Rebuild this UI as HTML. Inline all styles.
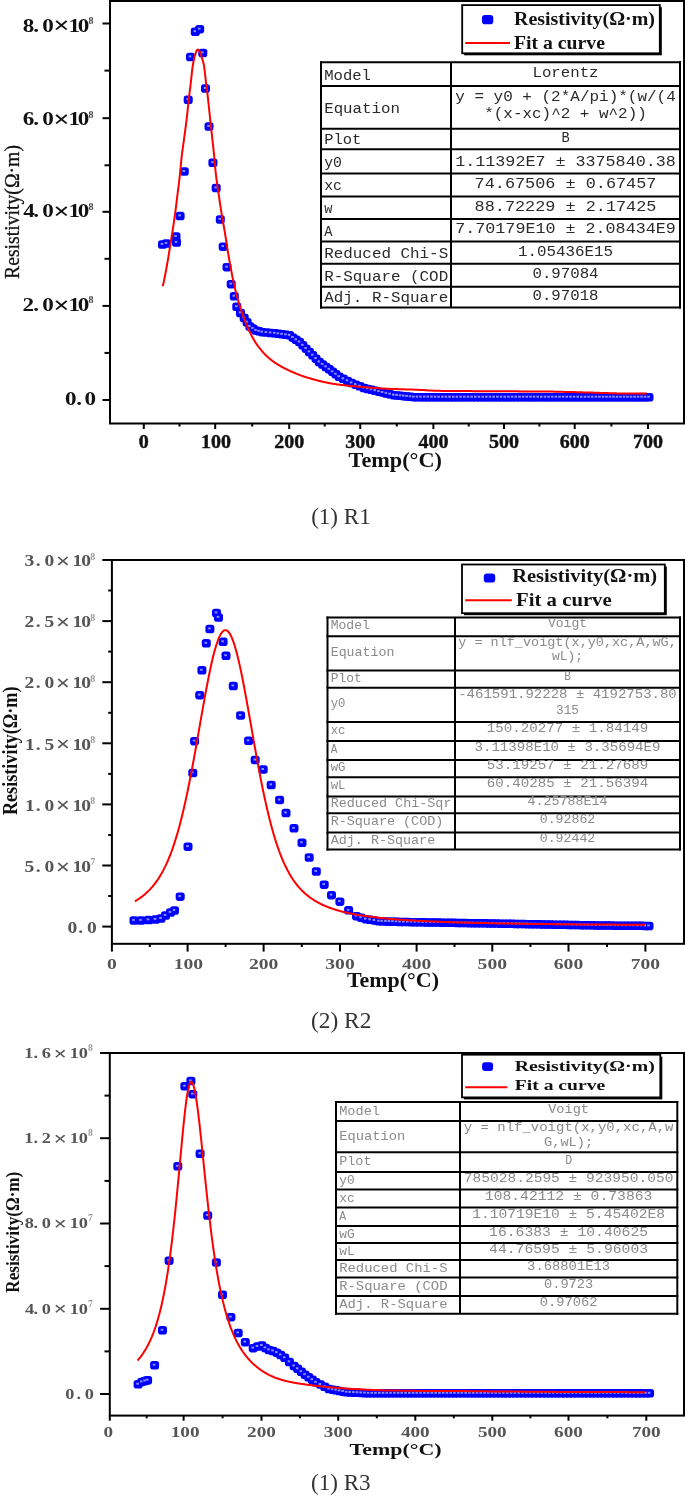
<!DOCTYPE html>
<html><head><meta charset="utf-8"><title>Resistivity fits</title>
<style>html,body{margin:0;padding:0;background:#fff;}body{width:685px;height:1496px;overflow:hidden;}svg{display:block;}</style>
</head><body>
<svg width="685" height="1496" viewBox="0 0 685 1496">
<rect width="685" height="1496" fill="#fff"/>
<rect x="158.0" y="240.2" width="9.0" height="8.5" rx="2.8" fill="#0000ff"/>
<rect x="162.0" y="239.2" width="9.0" height="8.5" rx="2.8" fill="#0000ff"/>
<rect x="171.5" y="232.2" width="9.0" height="8.5" rx="2.8" fill="#0000ff"/>
<rect x="172.0" y="238.2" width="9.0" height="8.5" rx="2.8" fill="#0000ff"/>
<rect x="175.6" y="211.7" width="9.0" height="8.5" rx="2.8" fill="#0000ff"/>
<rect x="179.8" y="167.3" width="9.0" height="8.5" rx="2.8" fill="#0000ff"/>
<rect x="183.7" y="95.5" width="9.0" height="8.5" rx="2.8" fill="#0000ff"/>
<rect x="186.0" y="52.7" width="9.0" height="8.5" rx="2.8" fill="#0000ff"/>
<rect x="190.8" y="27.5" width="9.0" height="8.5" rx="2.8" fill="#0000ff"/>
<rect x="195.2" y="24.9" width="9.0" height="8.5" rx="2.8" fill="#0000ff"/>
<rect x="198.3" y="48.7" width="9.0" height="8.5" rx="2.8" fill="#0000ff"/>
<rect x="201.0" y="84.2" width="9.0" height="8.5" rx="2.8" fill="#0000ff"/>
<rect x="204.5" y="122.2" width="9.0" height="8.5" rx="2.8" fill="#0000ff"/>
<rect x="208.4" y="158.5" width="9.0" height="8.5" rx="2.8" fill="#0000ff"/>
<rect x="211.7" y="183.7" width="9.0" height="8.5" rx="2.8" fill="#0000ff"/>
<rect x="215.8" y="215.2" width="9.0" height="8.5" rx="2.8" fill="#0000ff"/>
<rect x="218.7" y="242.4" width="9.0" height="8.5" rx="2.8" fill="#0000ff"/>
<rect x="222.5" y="262.9" width="9.0" height="8.5" rx="2.8" fill="#0000ff"/>
<rect x="226.7" y="279.9" width="9.0" height="8.5" rx="2.8" fill="#0000ff"/>
<rect x="229.8" y="292.0" width="9.0" height="8.5" rx="2.8" fill="#0000ff"/>
<rect x="232.3" y="302.5" width="9.0" height="8.5" rx="2.8" fill="#0000ff"/>
<rect x="236.0" y="308.7" width="9.0" height="8.5" rx="2.8" fill="#0000ff"/>
<rect x="239.7" y="313.7" width="9.0" height="8.5" rx="2.8" fill="#0000ff"/>
<rect x="242.6" y="318.0" width="9.0" height="8.5" rx="2.8" fill="#0000ff"/>
<rect x="245.4" y="322.2" width="9.0" height="8.5" rx="2.8" fill="#0000ff"/>
<rect x="248.4" y="324.2" width="9.0" height="8.5" rx="2.8" fill="#0000ff"/>
<rect x="251.5" y="326.2" width="9.0" height="8.5" rx="2.8" fill="#0000ff"/>
<rect x="254.6" y="327.1" width="9.0" height="8.5" rx="2.8" fill="#0000ff"/>
<rect x="257.8" y="327.9" width="9.0" height="8.5" rx="2.8" fill="#0000ff"/>
<rect x="261.9" y="328.3" width="9.0" height="8.5" rx="2.8" fill="#0000ff"/>
<rect x="266.1" y="328.7" width="9.0" height="8.5" rx="2.8" fill="#0000ff"/>
<rect x="270.2" y="329.1" width="9.0" height="8.5" rx="2.8" fill="#0000ff"/>
<rect x="273.9" y="329.6" width="9.0" height="8.5" rx="2.8" fill="#0000ff"/>
<rect x="277.6" y="330.1" width="9.0" height="8.5" rx="2.8" fill="#0000ff"/>
<rect x="281.4" y="330.6" width="9.0" height="8.5" rx="2.8" fill="#0000ff"/>
<rect x="285.1" y="331.1" width="9.0" height="8.5" rx="2.8" fill="#0000ff"/>
<rect x="288.4" y="333.4" width="9.0" height="8.5" rx="2.8" fill="#0000ff"/>
<rect x="291.7" y="335.6" width="9.0" height="8.5" rx="2.8" fill="#0000ff"/>
<rect x="295.0" y="337.8" width="9.0" height="8.5" rx="2.8" fill="#0000ff"/>
<rect x="298.3" y="341.1" width="9.0" height="8.5" rx="2.8" fill="#0000ff"/>
<rect x="301.6" y="344.4" width="9.0" height="8.5" rx="2.8" fill="#0000ff"/>
<rect x="304.9" y="347.7" width="9.0" height="8.5" rx="2.8" fill="#0000ff"/>
<rect x="308.2" y="351.1" width="9.0" height="8.5" rx="2.8" fill="#0000ff"/>
<rect x="311.5" y="354.4" width="9.0" height="8.5" rx="2.8" fill="#0000ff"/>
<rect x="314.8" y="357.7" width="9.0" height="8.5" rx="2.8" fill="#0000ff"/>
<rect x="318.1" y="360.2" width="9.0" height="8.5" rx="2.8" fill="#0000ff"/>
<rect x="321.5" y="362.7" width="9.0" height="8.5" rx="2.8" fill="#0000ff"/>
<rect x="324.8" y="365.1" width="9.0" height="8.5" rx="2.8" fill="#0000ff"/>
<rect x="328.1" y="367.6" width="9.0" height="8.5" rx="2.8" fill="#0000ff"/>
<rect x="331.4" y="370.1" width="9.0" height="8.5" rx="2.8" fill="#0000ff"/>
<rect x="334.7" y="372.5" width="9.0" height="8.5" rx="2.8" fill="#0000ff"/>
<rect x="338.8" y="374.6" width="9.0" height="8.5" rx="2.8" fill="#0000ff"/>
<rect x="343.0" y="376.7" width="9.0" height="8.5" rx="2.8" fill="#0000ff"/>
<rect x="347.1" y="378.7" width="9.0" height="8.5" rx="2.8" fill="#0000ff"/>
<rect x="351.2" y="380.4" width="9.0" height="8.5" rx="2.8" fill="#0000ff"/>
<rect x="355.4" y="382.1" width="9.0" height="8.5" rx="2.8" fill="#0000ff"/>
<rect x="359.5" y="383.7" width="9.0" height="8.5" rx="2.8" fill="#0000ff"/>
<rect x="363.2" y="384.7" width="9.0" height="8.5" rx="2.8" fill="#0000ff"/>
<rect x="366.9" y="385.6" width="9.0" height="8.5" rx="2.8" fill="#0000ff"/>
<rect x="370.7" y="386.5" width="9.0" height="8.5" rx="2.8" fill="#0000ff"/>
<rect x="374.4" y="387.4" width="9.0" height="8.5" rx="2.8" fill="#0000ff"/>
<rect x="378.1" y="388.3" width="9.0" height="8.5" rx="2.8" fill="#0000ff"/>
<rect x="381.9" y="389.2" width="9.0" height="8.5" rx="2.8" fill="#0000ff"/>
<rect x="385.6" y="390.1" width="9.0" height="8.5" rx="2.8" fill="#0000ff"/>
<rect x="389.3" y="390.9" width="9.0" height="8.5" rx="2.8" fill="#0000ff"/>
<rect x="392.6" y="391.3" width="9.0" height="8.5" rx="2.8" fill="#0000ff"/>
<rect x="396.0" y="391.6" width="9.0" height="8.5" rx="2.8" fill="#0000ff"/>
<rect x="399.3" y="391.9" width="9.0" height="8.5" rx="2.8" fill="#0000ff"/>
<rect x="402.6" y="392.3" width="9.0" height="8.5" rx="2.8" fill="#0000ff"/>
<rect x="406.0" y="392.6" width="9.0" height="8.5" rx="2.8" fill="#0000ff"/>
<rect x="409.3" y="392.9" width="9.0" height="8.5" rx="2.8" fill="#0000ff"/>
<rect x="412.9" y="392.9" width="9.0" height="8.5" rx="2.8" fill="#0000ff"/>
<rect x="416.5" y="392.9" width="9.0" height="8.5" rx="2.8" fill="#0000ff"/>
<rect x="420.2" y="393.0" width="9.0" height="8.5" rx="2.8" fill="#0000ff"/>
<rect x="423.8" y="393.0" width="9.0" height="8.5" rx="2.8" fill="#0000ff"/>
<rect x="427.4" y="393.0" width="9.0" height="8.5" rx="2.8" fill="#0000ff"/>
<rect x="431.0" y="393.0" width="9.0" height="8.5" rx="2.8" fill="#0000ff"/>
<rect x="434.6" y="393.0" width="9.0" height="8.5" rx="2.8" fill="#0000ff"/>
<rect x="438.3" y="393.0" width="9.0" height="8.5" rx="2.8" fill="#0000ff"/>
<rect x="441.9" y="393.0" width="9.0" height="8.5" rx="2.8" fill="#0000ff"/>
<rect x="445.5" y="393.0" width="9.0" height="8.5" rx="2.8" fill="#0000ff"/>
<rect x="449.2" y="393.0" width="9.0" height="8.5" rx="2.8" fill="#0000ff"/>
<rect x="452.9" y="393.0" width="9.0" height="8.5" rx="2.8" fill="#0000ff"/>
<rect x="456.6" y="393.0" width="9.0" height="8.5" rx="2.8" fill="#0000ff"/>
<rect x="460.2" y="393.0" width="9.0" height="8.5" rx="2.8" fill="#0000ff"/>
<rect x="463.9" y="393.0" width="9.0" height="8.5" rx="2.8" fill="#0000ff"/>
<rect x="467.6" y="393.0" width="9.0" height="8.5" rx="2.8" fill="#0000ff"/>
<rect x="471.3" y="393.0" width="9.0" height="8.5" rx="2.8" fill="#0000ff"/>
<rect x="475.0" y="393.0" width="9.0" height="8.5" rx="2.8" fill="#0000ff"/>
<rect x="478.7" y="393.0" width="9.0" height="8.5" rx="2.8" fill="#0000ff"/>
<rect x="482.3" y="393.0" width="9.0" height="8.5" rx="2.8" fill="#0000ff"/>
<rect x="486.0" y="393.0" width="9.0" height="8.5" rx="2.8" fill="#0000ff"/>
<rect x="489.7" y="393.0" width="9.0" height="8.5" rx="2.8" fill="#0000ff"/>
<rect x="493.4" y="393.0" width="9.0" height="8.5" rx="2.8" fill="#0000ff"/>
<rect x="497.1" y="393.0" width="9.0" height="8.5" rx="2.8" fill="#0000ff"/>
<rect x="500.8" y="393.0" width="9.0" height="8.5" rx="2.8" fill="#0000ff"/>
<rect x="504.4" y="393.0" width="9.0" height="8.5" rx="2.8" fill="#0000ff"/>
<rect x="508.1" y="393.0" width="9.0" height="8.5" rx="2.8" fill="#0000ff"/>
<rect x="511.8" y="393.0" width="9.0" height="8.5" rx="2.8" fill="#0000ff"/>
<rect x="515.5" y="393.0" width="9.0" height="8.5" rx="2.8" fill="#0000ff"/>
<rect x="519.1" y="393.0" width="9.0" height="8.5" rx="2.8" fill="#0000ff"/>
<rect x="522.8" y="393.0" width="9.0" height="8.5" rx="2.8" fill="#0000ff"/>
<rect x="526.4" y="393.0" width="9.0" height="8.5" rx="2.8" fill="#0000ff"/>
<rect x="530.0" y="393.0" width="9.0" height="8.5" rx="2.8" fill="#0000ff"/>
<rect x="533.7" y="393.0" width="9.0" height="8.5" rx="2.8" fill="#0000ff"/>
<rect x="537.3" y="393.0" width="9.0" height="8.5" rx="2.8" fill="#0000ff"/>
<rect x="541.0" y="393.0" width="9.0" height="8.5" rx="2.8" fill="#0000ff"/>
<rect x="544.6" y="393.0" width="9.0" height="8.5" rx="2.8" fill="#0000ff"/>
<rect x="548.2" y="393.0" width="9.0" height="8.5" rx="2.8" fill="#0000ff"/>
<rect x="551.9" y="393.0" width="9.0" height="8.5" rx="2.8" fill="#0000ff"/>
<rect x="555.5" y="393.0" width="9.0" height="8.5" rx="2.8" fill="#0000ff"/>
<rect x="559.1" y="393.0" width="9.0" height="8.5" rx="2.8" fill="#0000ff"/>
<rect x="562.8" y="393.0" width="9.0" height="8.5" rx="2.8" fill="#0000ff"/>
<rect x="566.4" y="393.0" width="9.0" height="8.5" rx="2.8" fill="#0000ff"/>
<rect x="570.0" y="393.0" width="9.0" height="8.5" rx="2.8" fill="#0000ff"/>
<rect x="573.7" y="393.0" width="9.0" height="8.5" rx="2.8" fill="#0000ff"/>
<rect x="577.3" y="393.0" width="9.0" height="8.5" rx="2.8" fill="#0000ff"/>
<rect x="581.0" y="393.0" width="9.0" height="8.5" rx="2.8" fill="#0000ff"/>
<rect x="584.6" y="393.0" width="9.0" height="8.5" rx="2.8" fill="#0000ff"/>
<rect x="588.2" y="393.0" width="9.0" height="8.5" rx="2.8" fill="#0000ff"/>
<rect x="591.9" y="393.0" width="9.0" height="8.5" rx="2.8" fill="#0000ff"/>
<rect x="595.5" y="393.0" width="9.0" height="8.5" rx="2.8" fill="#0000ff"/>
<rect x="599.0" y="393.0" width="9.0" height="8.5" rx="2.8" fill="#0000ff"/>
<rect x="602.5" y="393.0" width="9.0" height="8.5" rx="2.8" fill="#0000ff"/>
<rect x="606.0" y="393.0" width="9.0" height="8.5" rx="2.8" fill="#0000ff"/>
<rect x="609.5" y="393.0" width="9.0" height="8.5" rx="2.8" fill="#0000ff"/>
<rect x="613.0" y="393.0" width="9.0" height="8.5" rx="2.8" fill="#0000ff"/>
<rect x="616.5" y="393.0" width="9.0" height="8.5" rx="2.8" fill="#0000ff"/>
<rect x="620.0" y="393.0" width="9.0" height="8.5" rx="2.8" fill="#0000ff"/>
<rect x="623.5" y="393.0" width="9.0" height="8.5" rx="2.8" fill="#0000ff"/>
<rect x="627.0" y="393.0" width="9.0" height="8.5" rx="2.8" fill="#0000ff"/>
<rect x="630.5" y="393.0" width="9.0" height="8.5" rx="2.8" fill="#0000ff"/>
<rect x="634.0" y="393.0" width="9.0" height="8.5" rx="2.8" fill="#0000ff"/>
<rect x="637.5" y="393.0" width="9.0" height="8.5" rx="2.8" fill="#0000ff"/>
<rect x="641.0" y="393.0" width="9.0" height="8.5" rx="2.8" fill="#0000ff"/>
<rect x="644.5" y="393.0" width="9.0" height="8.5" rx="2.8" fill="#0000ff"/>
<rect x="160.7" y="242.9" width="2.6" height="2" fill="#8c8cff"/>
<rect x="164.7" y="241.9" width="2.6" height="2" fill="#8c8cff"/>
<rect x="174.2" y="234.9" width="2.6" height="2" fill="#8c8cff"/>
<rect x="174.7" y="240.9" width="2.6" height="2" fill="#8c8cff"/>
<rect x="178.3" y="214.4" width="2.6" height="2" fill="#8c8cff"/>
<rect x="182.5" y="170.0" width="2.6" height="2" fill="#8c8cff"/>
<rect x="186.4" y="98.2" width="2.6" height="2" fill="#8c8cff"/>
<rect x="188.7" y="55.4" width="2.6" height="2" fill="#8c8cff"/>
<rect x="193.5" y="30.2" width="2.6" height="2" fill="#8c8cff"/>
<rect x="197.9" y="27.6" width="2.6" height="2" fill="#8c8cff"/>
<rect x="201.0" y="51.4" width="2.6" height="2" fill="#8c8cff"/>
<rect x="203.7" y="86.9" width="2.6" height="2" fill="#8c8cff"/>
<rect x="207.2" y="124.9" width="2.6" height="2" fill="#8c8cff"/>
<rect x="211.1" y="161.2" width="2.6" height="2" fill="#8c8cff"/>
<rect x="214.4" y="186.4" width="2.6" height="2" fill="#8c8cff"/>
<rect x="218.5" y="217.9" width="2.6" height="2" fill="#8c8cff"/>
<rect x="221.4" y="245.1" width="2.6" height="2" fill="#8c8cff"/>
<rect x="225.2" y="265.6" width="2.6" height="2" fill="#8c8cff"/>
<rect x="229.4" y="282.6" width="2.6" height="2" fill="#8c8cff"/>
<rect x="232.5" y="294.7" width="2.6" height="2" fill="#8c8cff"/>
<rect x="235.0" y="305.2" width="2.6" height="2" fill="#8c8cff"/>
<rect x="238.7" y="311.4" width="2.6" height="2" fill="#8c8cff"/>
<rect x="242.4" y="316.4" width="2.6" height="2" fill="#8c8cff"/>
<rect x="245.2" y="320.6" width="2.6" height="2" fill="#8c8cff"/>
<rect x="248.1" y="324.9" width="2.6" height="2" fill="#8c8cff"/>
<rect x="251.1" y="326.9" width="2.6" height="2" fill="#8c8cff"/>
<rect x="254.2" y="328.9" width="2.6" height="2" fill="#8c8cff"/>
<rect x="257.3" y="329.8" width="2.6" height="2" fill="#8c8cff"/>
<rect x="260.5" y="330.6" width="2.6" height="2" fill="#8c8cff"/>
<rect x="264.6" y="331.0" width="2.6" height="2" fill="#8c8cff"/>
<rect x="268.8" y="331.4" width="2.6" height="2" fill="#8c8cff"/>
<rect x="272.9" y="331.8" width="2.6" height="2" fill="#8c8cff"/>
<rect x="276.6" y="332.3" width="2.6" height="2" fill="#8c8cff"/>
<rect x="280.3" y="332.8" width="2.6" height="2" fill="#8c8cff"/>
<rect x="284.1" y="333.3" width="2.6" height="2" fill="#8c8cff"/>
<rect x="287.8" y="333.8" width="2.6" height="2" fill="#8c8cff"/>
<rect x="291.1" y="336.0" width="2.6" height="2" fill="#8c8cff"/>
<rect x="294.4" y="338.3" width="2.6" height="2" fill="#8c8cff"/>
<rect x="297.7" y="340.5" width="2.6" height="2" fill="#8c8cff"/>
<rect x="301.0" y="343.8" width="2.6" height="2" fill="#8c8cff"/>
<rect x="304.3" y="347.1" width="2.6" height="2" fill="#8c8cff"/>
<rect x="307.6" y="350.4" width="2.6" height="2" fill="#8c8cff"/>
<rect x="310.9" y="353.7" width="2.6" height="2" fill="#8c8cff"/>
<rect x="314.2" y="357.1" width="2.6" height="2" fill="#8c8cff"/>
<rect x="317.5" y="360.4" width="2.6" height="2" fill="#8c8cff"/>
<rect x="320.8" y="362.9" width="2.6" height="2" fill="#8c8cff"/>
<rect x="324.2" y="365.3" width="2.6" height="2" fill="#8c8cff"/>
<rect x="327.5" y="367.8" width="2.6" height="2" fill="#8c8cff"/>
<rect x="330.8" y="370.3" width="2.6" height="2" fill="#8c8cff"/>
<rect x="334.1" y="372.7" width="2.6" height="2" fill="#8c8cff"/>
<rect x="337.4" y="375.2" width="2.6" height="2" fill="#8c8cff"/>
<rect x="341.5" y="377.3" width="2.6" height="2" fill="#8c8cff"/>
<rect x="345.7" y="379.3" width="2.6" height="2" fill="#8c8cff"/>
<rect x="349.8" y="381.4" width="2.6" height="2" fill="#8c8cff"/>
<rect x="353.9" y="383.1" width="2.6" height="2" fill="#8c8cff"/>
<rect x="358.1" y="384.7" width="2.6" height="2" fill="#8c8cff"/>
<rect x="362.2" y="386.4" width="2.6" height="2" fill="#8c8cff"/>
<rect x="365.9" y="387.3" width="2.6" height="2" fill="#8c8cff"/>
<rect x="369.6" y="388.2" width="2.6" height="2" fill="#8c8cff"/>
<rect x="373.4" y="389.2" width="2.6" height="2" fill="#8c8cff"/>
<rect x="377.1" y="390.1" width="2.6" height="2" fill="#8c8cff"/>
<rect x="380.8" y="391.0" width="2.6" height="2" fill="#8c8cff"/>
<rect x="384.6" y="391.8" width="2.6" height="2" fill="#8c8cff"/>
<rect x="388.3" y="392.7" width="2.6" height="2" fill="#8c8cff"/>
<rect x="392.0" y="393.6" width="2.6" height="2" fill="#8c8cff"/>
<rect x="395.3" y="393.9" width="2.6" height="2" fill="#8c8cff"/>
<rect x="398.7" y="394.3" width="2.6" height="2" fill="#8c8cff"/>
<rect x="402.0" y="394.6" width="2.6" height="2" fill="#8c8cff"/>
<rect x="405.3" y="394.9" width="2.6" height="2" fill="#8c8cff"/>
<rect x="408.7" y="395.3" width="2.6" height="2" fill="#8c8cff"/>
<rect x="412.0" y="395.6" width="2.6" height="2" fill="#8c8cff"/>
<rect x="415.6" y="395.6" width="2.6" height="2" fill="#8c8cff"/>
<rect x="419.2" y="395.6" width="2.6" height="2" fill="#8c8cff"/>
<rect x="422.9" y="395.6" width="2.6" height="2" fill="#8c8cff"/>
<rect x="426.5" y="395.6" width="2.6" height="2" fill="#8c8cff"/>
<rect x="430.1" y="395.6" width="2.6" height="2" fill="#8c8cff"/>
<rect x="433.7" y="395.7" width="2.6" height="2" fill="#8c8cff"/>
<rect x="437.3" y="395.7" width="2.6" height="2" fill="#8c8cff"/>
<rect x="441.0" y="395.7" width="2.6" height="2" fill="#8c8cff"/>
<rect x="444.6" y="395.7" width="2.6" height="2" fill="#8c8cff"/>
<rect x="448.2" y="395.7" width="2.6" height="2" fill="#8c8cff"/>
<rect x="451.9" y="395.7" width="2.6" height="2" fill="#8c8cff"/>
<rect x="455.6" y="395.7" width="2.6" height="2" fill="#8c8cff"/>
<rect x="459.3" y="395.7" width="2.6" height="2" fill="#8c8cff"/>
<rect x="462.9" y="395.7" width="2.6" height="2" fill="#8c8cff"/>
<rect x="466.6" y="395.7" width="2.6" height="2" fill="#8c8cff"/>
<rect x="470.3" y="395.7" width="2.6" height="2" fill="#8c8cff"/>
<rect x="474.0" y="395.7" width="2.6" height="2" fill="#8c8cff"/>
<rect x="477.7" y="395.7" width="2.6" height="2" fill="#8c8cff"/>
<rect x="481.4" y="395.7" width="2.6" height="2" fill="#8c8cff"/>
<rect x="485.0" y="395.7" width="2.6" height="2" fill="#8c8cff"/>
<rect x="488.7" y="395.7" width="2.6" height="2" fill="#8c8cff"/>
<rect x="492.4" y="395.7" width="2.6" height="2" fill="#8c8cff"/>
<rect x="496.1" y="395.7" width="2.6" height="2" fill="#8c8cff"/>
<rect x="499.8" y="395.7" width="2.6" height="2" fill="#8c8cff"/>
<rect x="503.5" y="395.7" width="2.6" height="2" fill="#8c8cff"/>
<rect x="507.1" y="395.7" width="2.6" height="2" fill="#8c8cff"/>
<rect x="510.8" y="395.7" width="2.6" height="2" fill="#8c8cff"/>
<rect x="514.5" y="395.7" width="2.6" height="2" fill="#8c8cff"/>
<rect x="518.2" y="395.7" width="2.6" height="2" fill="#8c8cff"/>
<rect x="521.8" y="395.7" width="2.6" height="2" fill="#8c8cff"/>
<rect x="525.5" y="395.7" width="2.6" height="2" fill="#8c8cff"/>
<rect x="529.1" y="395.7" width="2.6" height="2" fill="#8c8cff"/>
<rect x="532.7" y="395.7" width="2.6" height="2" fill="#8c8cff"/>
<rect x="536.4" y="395.7" width="2.6" height="2" fill="#8c8cff"/>
<rect x="540.0" y="395.7" width="2.6" height="2" fill="#8c8cff"/>
<rect x="543.7" y="395.7" width="2.6" height="2" fill="#8c8cff"/>
<rect x="547.3" y="395.7" width="2.6" height="2" fill="#8c8cff"/>
<rect x="550.9" y="395.7" width="2.6" height="2" fill="#8c8cff"/>
<rect x="554.6" y="395.7" width="2.6" height="2" fill="#8c8cff"/>
<rect x="558.2" y="395.7" width="2.6" height="2" fill="#8c8cff"/>
<rect x="561.8" y="395.7" width="2.6" height="2" fill="#8c8cff"/>
<rect x="565.5" y="395.7" width="2.6" height="2" fill="#8c8cff"/>
<rect x="569.1" y="395.7" width="2.6" height="2" fill="#8c8cff"/>
<rect x="572.7" y="395.7" width="2.6" height="2" fill="#8c8cff"/>
<rect x="576.4" y="395.7" width="2.6" height="2" fill="#8c8cff"/>
<rect x="580.0" y="395.7" width="2.6" height="2" fill="#8c8cff"/>
<rect x="583.7" y="395.7" width="2.6" height="2" fill="#8c8cff"/>
<rect x="587.3" y="395.7" width="2.6" height="2" fill="#8c8cff"/>
<rect x="590.9" y="395.7" width="2.6" height="2" fill="#8c8cff"/>
<rect x="594.6" y="395.7" width="2.6" height="2" fill="#8c8cff"/>
<rect x="598.2" y="395.7" width="2.6" height="2" fill="#8c8cff"/>
<rect x="601.7" y="395.7" width="2.6" height="2" fill="#8c8cff"/>
<rect x="605.2" y="395.7" width="2.6" height="2" fill="#8c8cff"/>
<rect x="608.7" y="395.7" width="2.6" height="2" fill="#8c8cff"/>
<rect x="612.2" y="395.7" width="2.6" height="2" fill="#8c8cff"/>
<rect x="615.7" y="395.7" width="2.6" height="2" fill="#8c8cff"/>
<rect x="619.2" y="395.7" width="2.6" height="2" fill="#8c8cff"/>
<rect x="622.7" y="395.7" width="2.6" height="2" fill="#8c8cff"/>
<rect x="626.2" y="395.7" width="2.6" height="2" fill="#8c8cff"/>
<rect x="629.7" y="395.7" width="2.6" height="2" fill="#8c8cff"/>
<rect x="633.2" y="395.7" width="2.6" height="2" fill="#8c8cff"/>
<rect x="636.7" y="395.7" width="2.6" height="2" fill="#8c8cff"/>
<rect x="640.2" y="395.7" width="2.6" height="2" fill="#8c8cff"/>
<rect x="643.7" y="395.7" width="2.6" height="2" fill="#8c8cff"/>
<rect x="647.2" y="395.7" width="2.6" height="2" fill="#8c8cff"/>
<polyline points="162.8,286.2 163.3,284.0 163.8,281.6 164.3,279.2 164.8,276.7 165.3,274.1 165.8,271.5 166.3,268.9 166.8,266.2 167.3,263.3 167.8,260.4 168.3,257.5 168.8,254.4 169.3,251.4 169.8,248.2 170.3,245.1 170.8,242.0 171.3,238.9 171.8,235.7 172.3,232.6 172.8,229.4 173.3,226.2 173.8,222.9 174.3,219.4 174.8,215.9 175.3,212.2 175.8,208.3 176.3,204.3 176.8,200.2 177.3,196.0 177.8,192.0 178.3,188.0 178.8,184.1 179.3,180.0 179.8,175.7 180.3,170.8 180.8,165.5 181.3,160.2 181.8,155.6 182.3,151.6 182.8,147.9 183.3,144.4 183.8,140.9 184.3,137.2 184.8,133.5 185.3,129.8 185.8,126.0 186.3,122.1 186.8,118.0 187.3,113.4 187.8,108.5 188.3,103.5 188.8,98.9 189.3,94.8 189.8,90.8 190.3,86.8 190.8,82.7 191.3,78.1 191.8,73.3 192.3,68.9 192.8,65.5 193.3,62.6 193.8,60.0 194.3,57.8 194.8,56.0 195.3,54.4 195.8,52.8 196.3,51.4 196.8,50.4 197.3,49.7 197.8,49.6 198.3,49.9 198.8,50.3 199.3,51.0 199.8,51.7 200.3,52.6 200.8,53.8 201.3,55.6 201.8,57.6 202.3,59.3 202.8,60.8 203.3,62.5 203.8,64.6 204.3,67.7 204.8,71.8 205.3,76.3 205.8,80.6 206.3,84.6 206.8,88.6 207.3,92.6 207.8,96.8 208.3,101.3 208.8,106.1 209.3,111.0 209.8,115.7 210.3,120.4 210.8,125.0 211.3,129.6 211.8,134.2 212.3,138.7 212.8,143.2 213.3,147.7 213.8,152.4 214.3,157.4 214.8,163.0 215.3,168.6 215.8,173.5 216.3,177.6 216.8,181.4 217.3,184.9 217.8,188.3 218.3,191.7 218.8,195.2 219.3,198.6 219.8,202.0 220.3,205.3 220.8,208.6 221.3,211.8 221.8,214.9 222.3,217.9 222.8,220.8 223.3,223.6 223.8,226.3 224.3,229.2 224.8,232.1 225.3,235.2 225.8,238.3 226.3,241.5 226.8,244.7 227.3,247.8 227.8,251.0 228.3,254.2 228.8,257.2 229.3,260.1 229.8,262.9 230.3,265.6 230.8,268.2 231.3,270.9 231.8,273.5 232.3,276.1 232.8,278.6 233.3,281.0 233.8,283.3 234.3,285.5 234.8,287.6 235.3,289.7 235.8,291.7 236.3,293.7 236.8,295.6 237.3,297.5 237.8,299.3 238.3,301.0 238.8,302.7 239.3,304.4 239.8,306.0 240.3,307.6 240.8,309.1 241.3,310.6 241.8,312.1 242.3,313.5 242.8,314.9 243.3,316.3 243.8,317.7 244.3,319.1 244.8,320.4 245.3,321.8 245.8,323.0 246.3,324.3 246.8,325.5 247.3,326.7 247.8,327.8 248.3,328.9 248.8,330.0 249.3,331.0 249.8,332.0 250.3,333.0 250.8,334.0 251.3,335.0 251.8,336.0 252.3,336.9 252.8,337.8 253.3,338.7 253.8,339.6 254.3,340.5 254.8,341.3 255.3,342.1 255.8,342.9 256.3,343.6 256.8,344.4 257.3,345.1 257.8,345.8 258.3,346.4 258.8,347.1 259.3,347.7 259.8,348.4 260.3,349.0 260.8,349.6 261.3,350.2 261.8,350.8 262.3,351.4 262.8,352.0 263.3,352.5 263.8,353.1 264.3,353.6 264.8,354.2 265.3,354.7 265.8,355.2 266.3,355.7 266.8,356.2 267.3,356.6 267.8,357.1 268.3,357.6 268.8,358.0 269.3,358.4 269.8,358.8 270.3,359.2 270.8,359.6 271.3,360.0 271.8,360.4 272.3,360.8 272.8,361.1 273.3,361.5 273.8,361.9 274.3,362.2 274.8,362.6 275.3,362.9 275.8,363.2 276.3,363.6 276.8,363.9 277.3,364.2 277.8,364.5 278.3,364.8 278.8,365.1 279.3,365.4 279.8,365.7 280.3,366.0 280.8,366.3 281.3,366.6 281.8,366.8 282.3,367.1 282.8,367.4 283.3,367.7 283.8,367.9 284.3,368.2 284.8,368.4 285.3,368.7 285.8,368.9 286.3,369.2 286.8,369.4 287.3,369.7 287.8,369.9 288.3,370.1 288.8,370.4 289.3,370.6 289.8,370.8 290.3,371.1 290.8,371.3 291.3,371.5 291.8,371.7 292.3,372.0 292.8,372.2 293.3,372.4 293.8,372.6 294.3,372.8 294.8,373.0 295.3,373.2 295.8,373.4 296.3,373.7 296.8,373.9 297.3,374.1 297.8,374.3 298.3,374.4 298.8,374.6 299.3,374.8 299.8,375.0 300.3,375.2 300.8,375.4 301.3,375.6 301.8,375.8 302.3,375.9 302.8,376.1 303.3,376.3 303.8,376.5 304.3,376.6 304.8,376.8 305.3,377.0 305.8,377.1 306.3,377.3 306.8,377.4 307.3,377.6 307.8,377.7 308.3,377.9 308.8,378.1 309.3,378.2 309.8,378.3 310.3,378.5 310.8,378.6 311.3,378.8 311.8,378.9 312.3,379.0 312.8,379.2 313.3,379.3 313.8,379.5 314.3,379.6 314.8,379.7 315.3,379.9 315.8,380.0 316.3,380.1 316.8,380.3 317.3,380.4 317.8,380.5 318.3,380.7 318.8,380.8 319.3,380.9 319.8,381.0 320.3,381.2 320.8,381.3 321.3,381.4 321.8,381.5 322.3,381.6 322.8,381.8 323.3,381.9 323.8,382.0 324.3,382.1 324.8,382.2 325.3,382.3 325.8,382.4 326.3,382.5 326.8,382.6 327.3,382.7 327.8,382.8 328.3,382.9 328.8,383.0 329.3,383.1 329.8,383.2 330.3,383.3 330.8,383.4 331.3,383.5 331.8,383.6 332.3,383.7 332.8,383.8 333.3,383.8 333.8,383.9 334.3,384.0 334.8,384.1 335.3,384.1 335.8,384.2 336.3,384.3 336.8,384.4 337.3,384.4 337.8,384.5 338.3,384.6 338.8,384.6 339.3,384.7 339.8,384.7 340.3,384.8 340.8,384.9 341.3,384.9 341.8,385.0 342.3,385.0 342.8,385.1 343.3,385.2 343.8,385.2 344.3,385.3 344.8,385.3 345.3,385.4 345.8,385.4 346.3,385.5 346.8,385.5 347.3,385.6 347.8,385.6 348.3,385.7 348.8,385.7 349.3,385.8 349.8,385.8 350.3,385.9 350.8,385.9 351.3,386.0 351.8,386.0 352.3,386.1 352.8,386.1 353.3,386.2 353.8,386.2 354.3,386.2 354.8,386.3 355.3,386.3 355.8,386.4 356.3,386.4 356.8,386.5 357.3,386.5 357.8,386.6 358.3,386.6 358.8,386.7 359.3,386.7 359.8,386.7 360.3,386.8 360.8,386.8 361.3,386.9 361.8,386.9 362.3,387.0 362.8,387.0 363.3,387.1 363.8,387.1 364.3,387.2 364.8,387.2 365.3,387.2 365.8,387.3 366.3,387.3 366.8,387.4 367.3,387.4 367.8,387.5 368.3,387.5 368.8,387.5 369.3,387.6 369.8,387.6 370.3,387.7 370.8,387.7 371.3,387.8 371.8,387.8 372.3,387.8 372.8,387.9 373.3,387.9 373.8,387.9 374.3,388.0 374.8,388.0 375.3,388.1 375.8,388.1 376.3,388.1 376.8,388.2 377.3,388.2 377.8,388.2 378.3,388.3 378.8,388.3 379.3,388.3 379.8,388.4 380.3,388.4 380.8,388.4 381.3,388.5 381.8,388.5 382.3,388.5 382.8,388.5 383.3,388.6 383.8,388.6 384.3,388.6 384.8,388.6 385.3,388.7 385.8,388.7 386.3,388.7 386.8,388.7 387.3,388.8 387.8,388.8 388.3,388.8 388.8,388.8 389.3,388.8 389.8,388.9 390.3,388.9 390.8,388.9 391.3,388.9 391.8,388.9 392.3,389.0 392.8,389.0 393.3,389.0 393.8,389.0 394.3,389.0 394.8,389.0 395.3,389.1 395.8,389.1 396.3,389.1 396.8,389.1 397.3,389.1 397.8,389.1 398.3,389.2 398.8,389.2 399.3,389.2 399.8,389.2 400.3,389.2 400.8,389.2 401.3,389.3 401.8,389.3 402.3,389.3 402.8,389.3 403.3,389.3 403.8,389.3 404.3,389.3 404.8,389.4 405.3,389.4 405.8,389.4 406.3,389.4 406.8,389.4 407.3,389.4 407.8,389.5 408.3,389.5 408.8,389.5 409.3,389.5 409.8,389.5 410.3,389.5 410.8,389.6 411.3,389.6 411.8,389.6 412.3,389.6 412.8,389.6 413.3,389.6 413.8,389.7 414.3,389.7 414.8,389.7 415.3,389.7 415.8,389.7 416.3,389.7 416.8,389.8 417.3,389.8 417.8,389.8 418.3,389.8 418.8,389.8 419.3,389.9 419.8,389.9 420.3,389.9 420.8,389.9 421.3,390.0 421.8,390.0 422.3,390.0 422.8,390.0 423.3,390.1 423.8,390.1 424.3,390.1 424.8,390.2 425.3,390.2 425.8,390.2 426.3,390.3 426.8,390.3 427.3,390.3 427.8,390.4 428.3,390.4 428.8,390.4 429.3,390.5 429.8,390.5 430.3,390.5 430.8,390.6 431.3,390.6 431.8,390.6 432.3,390.6 432.8,390.7 433.3,390.7 433.8,390.7 434.3,390.7 434.8,390.7 435.3,390.8 435.8,390.8 436.3,390.8 436.8,390.8 437.3,390.8 437.8,390.8 438.3,390.8 438.8,390.8 439.3,390.8 439.8,390.8 440.3,390.8 440.8,390.9 441.3,390.9 441.8,390.9 442.3,390.9 442.8,390.9 443.3,390.9 443.8,390.9 444.3,390.9 444.8,390.9 445.3,390.9 445.8,390.9 446.3,390.9 446.8,390.9 447.3,390.9 447.8,390.9 448.3,391.0 448.8,391.0 449.3,391.0 449.8,391.0 450.3,391.0 450.8,391.0 451.3,391.0 451.8,391.0 452.3,391.0 452.8,391.0 453.3,391.0 453.8,391.0 454.3,391.0 454.8,391.0 455.3,391.0 455.8,391.0 456.3,391.0 456.8,391.0 457.3,391.0 457.8,391.0 458.3,391.1 458.8,391.1 459.3,391.1 459.8,391.1 460.3,391.1 460.8,391.1 461.3,391.1 461.8,391.1 462.3,391.1 462.8,391.1 463.3,391.1 463.8,391.1 464.3,391.1 464.8,391.1 465.3,391.1 465.8,391.1 466.3,391.1 466.8,391.1 467.3,391.1 467.8,391.1 468.3,391.1 468.8,391.1 469.3,391.1 469.8,391.1 470.3,391.1 470.8,391.1 471.3,391.1 471.8,391.1 472.3,391.2 472.8,391.2 473.3,391.2 473.8,391.2 474.3,391.2 474.8,391.2 475.3,391.2 475.8,391.2 476.3,391.2 476.8,391.2 477.3,391.2 477.8,391.2 478.3,391.2 478.8,391.2 479.3,391.2 479.8,391.2 480.3,391.2 480.8,391.2 481.3,391.2 481.8,391.2 482.3,391.2 482.8,391.2 483.3,391.2 483.8,391.2 484.3,391.2 484.8,391.2 485.3,391.2 485.8,391.2 486.3,391.2 486.8,391.2 487.3,391.2 487.8,391.2 488.3,391.2 488.8,391.2 489.3,391.2 489.8,391.2 490.3,391.2 490.8,391.2 491.3,391.2 491.8,391.2 492.3,391.2 492.8,391.2 493.3,391.2 493.8,391.2 494.3,391.3 494.8,391.3 495.3,391.3 495.8,391.3 496.3,391.3 496.8,391.3 497.3,391.3 497.8,391.3 498.3,391.3 498.8,391.3 499.3,391.3 499.8,391.3 500.3,391.3 500.8,391.3 501.3,391.3 501.8,391.3 502.3,391.3 502.8,391.3 503.3,391.3 503.8,391.3 504.3,391.3 504.8,391.3 505.3,391.3 505.8,391.3 506.3,391.3 506.8,391.3 507.3,391.3 507.8,391.3 508.3,391.3 508.8,391.3 509.3,391.3 509.8,391.3 510.3,391.3 510.8,391.3 511.3,391.3 511.8,391.3 512.3,391.3 512.8,391.3 513.3,391.3 513.8,391.3 514.3,391.3 514.8,391.3 515.3,391.3 515.8,391.3 516.3,391.3 516.8,391.3 517.3,391.3 517.8,391.3 518.3,391.3 518.8,391.4 519.3,391.4 519.8,391.4 520.3,391.4 520.8,391.4 521.3,391.4 521.8,391.4 522.3,391.4 522.8,391.4 523.3,391.4 523.8,391.4 524.3,391.4 524.8,391.4 525.3,391.4 525.8,391.4 526.3,391.4 526.8,391.4 527.3,391.4 527.8,391.4 528.3,391.4 528.8,391.4 529.3,391.4 529.8,391.4 530.3,391.4 530.8,391.4 531.3,391.4 531.8,391.4 532.3,391.4 532.8,391.4 533.3,391.4 533.8,391.4 534.3,391.4 534.8,391.5 535.3,391.5 535.8,391.5 536.3,391.5 536.8,391.5 537.3,391.5 537.8,391.5 538.3,391.5 538.8,391.5 539.3,391.5 539.8,391.5 540.3,391.5 540.8,391.5 541.3,391.5 541.8,391.5 542.3,391.5 542.8,391.5 543.3,391.5 543.8,391.5 544.3,391.5 544.8,391.5 545.3,391.5 545.8,391.6 546.3,391.6 546.8,391.6 547.3,391.6 547.8,391.6 548.3,391.6 548.8,391.6 549.3,391.6 549.8,391.6 550.3,391.6 550.8,391.6 551.3,391.6 551.8,391.6 552.3,391.6 552.8,391.6 553.3,391.6 553.8,391.7 554.3,391.7 554.8,391.7 555.3,391.7 555.8,391.7 556.3,391.7 556.8,391.7 557.3,391.7 557.8,391.7 558.3,391.7 558.8,391.7 559.3,391.8 559.8,391.8 560.3,391.8 560.8,391.8 561.3,391.8 561.8,391.8 562.3,391.8 562.8,391.8 563.3,391.8 563.8,391.9 564.3,391.9 564.8,391.9 565.3,391.9 565.8,391.9 566.3,391.9 566.8,391.9 567.3,391.9 567.8,392.0 568.3,392.0 568.8,392.0 569.3,392.0 569.8,392.0 570.3,392.0 570.8,392.0 571.3,392.0 571.8,392.1 572.3,392.1 572.8,392.1 573.3,392.1 573.8,392.1 574.3,392.1 574.8,392.1 575.3,392.2 575.8,392.2 576.3,392.2 576.8,392.2 577.3,392.2 577.8,392.2 578.3,392.2 578.8,392.3 579.3,392.3 579.8,392.3 580.3,392.3 580.8,392.3 581.3,392.3 581.8,392.3 582.3,392.3 582.8,392.4 583.3,392.4 583.8,392.4 584.3,392.4 584.8,392.4 585.3,392.4 585.8,392.4 586.3,392.5 586.8,392.5 587.3,392.5 587.8,392.5 588.3,392.5 588.8,392.5 589.3,392.5 589.8,392.5 590.3,392.6 590.8,392.6 591.3,392.6 591.8,392.6 592.3,392.6 592.8,392.6 593.3,392.7 593.8,392.7 594.3,392.7 594.8,392.7 595.3,392.7 595.8,392.7 596.3,392.7 596.8,392.8 597.3,392.8 597.8,392.8 598.3,392.8 598.8,392.8 599.3,392.8 599.8,392.9 600.3,392.9 600.8,392.9 601.3,392.9 601.8,392.9 602.3,393.0 602.8,393.0 603.3,393.0 603.8,393.0 604.3,393.0 604.8,393.0 605.3,393.0 605.8,393.1 606.3,393.1 606.8,393.1 607.3,393.1 607.8,393.1 608.3,393.1 608.8,393.2 609.3,393.2 609.8,393.2 610.3,393.2 610.8,393.2 611.3,393.2 611.8,393.2 612.3,393.3 612.8,393.3 613.3,393.3 613.8,393.3 614.3,393.3 614.8,393.3 615.3,393.3 615.8,393.3 616.3,393.3 616.8,393.4 617.3,393.4 617.8,393.4 618.3,393.4 618.8,393.4 619.3,393.4 619.8,393.4 620.3,393.4 620.8,393.4 621.3,393.4 621.8,393.4 622.3,393.4 622.8,393.4 623.3,393.4 623.8,393.4 624.3,393.4 624.8,393.5 625.3,393.5 625.8,393.5 626.3,393.5 626.8,393.5 627.3,393.5 627.8,393.5 628.3,393.5 628.8,393.5 629.3,393.5 629.8,393.5 630.3,393.5 630.8,393.5 631.3,393.5 631.8,393.5 632.3,393.5 632.8,393.5 633.3,393.5 633.8,393.5 634.3,393.5 634.8,393.5 635.3,393.6 635.8,393.6 636.3,393.6 636.8,393.6 637.3,393.6 637.8,393.6 638.3,393.6 638.8,393.6 639.3,393.6 639.8,393.6 640.3,393.6 640.8,393.6 641.3,393.6 641.8,393.6 642.3,393.6 642.8,393.6 643.3,393.6 643.8,393.6 644.3,393.6 644.8,393.6 645.3,393.6 645.8,393.6 646.3,393.6 646.8,393.6" fill="none" stroke="#ff0000" stroke-width="2" stroke-linejoin="round"/>
<rect x="110" y="1" width="574" height="422.5" fill="none" stroke="#000" stroke-width="2"/>
<line x1="102.5" y1="23.5" x2="110.0" y2="23.5" stroke="#000" stroke-width="2"/>
<line x1="102.5" y1="118.2" x2="110.0" y2="118.2" stroke="#000" stroke-width="2"/>
<line x1="102.5" y1="211.8" x2="110.0" y2="211.8" stroke="#000" stroke-width="2"/>
<line x1="102.5" y1="305.9" x2="110.0" y2="305.9" stroke="#000" stroke-width="2"/>
<line x1="102.5" y1="400.0" x2="110.0" y2="400.0" stroke="#000" stroke-width="2"/>
<line x1="104.5" y1="70.6" x2="110.0" y2="70.6" stroke="#000" stroke-width="2"/>
<line x1="104.5" y1="165.3" x2="110.0" y2="165.3" stroke="#000" stroke-width="2"/>
<line x1="104.5" y1="258.8" x2="110.0" y2="258.8" stroke="#000" stroke-width="2"/>
<line x1="104.5" y1="352.9" x2="110.0" y2="352.9" stroke="#000" stroke-width="2"/>
<line x1="143.8" y1="423.5" x2="143.8" y2="429.0" stroke="#000" stroke-width="2"/>
<line x1="215.2" y1="423.5" x2="215.2" y2="429.0" stroke="#000" stroke-width="2"/>
<line x1="289.2" y1="423.5" x2="289.2" y2="429.0" stroke="#000" stroke-width="2"/>
<line x1="360.2" y1="423.5" x2="360.2" y2="429.0" stroke="#000" stroke-width="2"/>
<line x1="433.4" y1="423.5" x2="433.4" y2="429.0" stroke="#000" stroke-width="2"/>
<line x1="504.0" y1="423.5" x2="504.0" y2="429.0" stroke="#000" stroke-width="2"/>
<line x1="574.7" y1="423.5" x2="574.7" y2="429.0" stroke="#000" stroke-width="2"/>
<line x1="648.0" y1="423.5" x2="648.0" y2="429.0" stroke="#000" stroke-width="2"/>
<line x1="179.5" y1="423.5" x2="179.5" y2="426.5" stroke="#000" stroke-width="2"/>
<line x1="252.2" y1="423.5" x2="252.2" y2="426.5" stroke="#000" stroke-width="2"/>
<line x1="324.7" y1="423.5" x2="324.7" y2="426.5" stroke="#000" stroke-width="2"/>
<line x1="396.8" y1="423.5" x2="396.8" y2="426.5" stroke="#000" stroke-width="2"/>
<line x1="468.7" y1="423.5" x2="468.7" y2="426.5" stroke="#000" stroke-width="2"/>
<line x1="539.4" y1="423.5" x2="539.4" y2="426.5" stroke="#000" stroke-width="2"/>
<line x1="611.4" y1="423.5" x2="611.4" y2="426.5" stroke="#000" stroke-width="2"/>
<text transform="scale(1.25,1)" y="31.6" font-family='"Liberation Serif", serif' font-weight="bold" fill="#111"><tspan x="18.24" y="31.60" font-size="18.5">8</tspan><tspan x="26.70" y="31.60" font-size="18.5">.</tspan><tspan x="33.82" y="31.60" font-size="18.5">0</tspan><tspan x="42.55" y="33.36" font-size="23.1">×</tspan><tspan x="54.76" y="31.60" font-size="18.5">1</tspan><tspan x="62.30" y="31.60" font-size="18.5">0</tspan></text>
<text x="88.6" y="24.0" font-family='"Liberation Serif", serif' font-size="10" font-weight="bold" fill="#444">8</text>
<text transform="scale(1.25,1)" y="125.3" font-family='"Liberation Serif", serif' font-weight="bold" fill="#111"><tspan x="18.24" y="125.30" font-size="18.5">6</tspan><tspan x="26.70" y="125.30" font-size="18.5">.</tspan><tspan x="33.82" y="125.30" font-size="18.5">0</tspan><tspan x="42.55" y="127.06" font-size="23.1">×</tspan><tspan x="54.76" y="125.30" font-size="18.5">1</tspan><tspan x="62.30" y="125.30" font-size="18.5">0</tspan></text>
<text x="88.6" y="117.7" font-family='"Liberation Serif", serif' font-size="10" font-weight="bold" fill="#444">8</text>
<text transform="scale(1.25,1)" y="217.4" font-family='"Liberation Serif", serif' font-weight="bold" fill="#111"><tspan x="18.62" y="217.40" font-size="18.5">4</tspan><tspan x="26.70" y="217.40" font-size="18.5">.</tspan><tspan x="33.82" y="217.40" font-size="18.5">0</tspan><tspan x="42.55" y="219.16" font-size="23.1">×</tspan><tspan x="54.76" y="217.40" font-size="18.5">1</tspan><tspan x="62.30" y="217.40" font-size="18.5">0</tspan></text>
<text x="88.6" y="209.8" font-family='"Liberation Serif", serif' font-size="10" font-weight="bold" fill="#444">8</text>
<text transform="scale(1.25,1)" y="310.8" font-family='"Liberation Serif", serif' font-weight="bold" fill="#111"><tspan x="18.06" y="310.80" font-size="18.5">2</tspan><tspan x="26.70" y="310.80" font-size="18.5">.</tspan><tspan x="33.82" y="310.80" font-size="18.5">0</tspan><tspan x="42.55" y="312.56" font-size="23.1">×</tspan><tspan x="54.76" y="310.80" font-size="18.5">1</tspan><tspan x="62.30" y="310.80" font-size="18.5">0</tspan></text>
<text x="88.6" y="303.2" font-family='"Liberation Serif", serif' font-size="10" font-weight="bold" fill="#444">8</text>
<text transform="scale(1.25,1)" y="405.4" font-family='"Liberation Serif", serif' font-weight="bold" fill="#111"><tspan x="52.06" y="405.40" font-size="18.5">0</tspan><tspan x="61.10" y="405.40" font-size="18.5">.</tspan><tspan x="67.66" y="405.40" font-size="18.5">0</tspan></text>
<text x="143.8" y="447.5" font-family='"Liberation Serif", serif' font-size="18" font-weight="bold" text-anchor="middle" fill="#111" textLength="10.0" lengthAdjust="spacingAndGlyphs" stroke="#111" stroke-width="0.4">0</text>
<text x="216.0" y="447.5" font-family='"Liberation Serif", serif' font-size="18" font-weight="bold" text-anchor="middle" fill="#111" textLength="30.0" lengthAdjust="spacingAndGlyphs" stroke="#111" stroke-width="0.4">100</text>
<text x="289.2" y="447.5" font-family='"Liberation Serif", serif' font-size="18" font-weight="bold" text-anchor="middle" fill="#111" textLength="30.0" lengthAdjust="spacingAndGlyphs" stroke="#111" stroke-width="0.4">200</text>
<text x="360.2" y="447.5" font-family='"Liberation Serif", serif' font-size="18" font-weight="bold" text-anchor="middle" fill="#111" textLength="30.0" lengthAdjust="spacingAndGlyphs" stroke="#111" stroke-width="0.4">300</text>
<text x="433.4" y="447.5" font-family='"Liberation Serif", serif' font-size="18" font-weight="bold" text-anchor="middle" fill="#111" textLength="30.0" lengthAdjust="spacingAndGlyphs" stroke="#111" stroke-width="0.4">400</text>
<text x="504.0" y="447.5" font-family='"Liberation Serif", serif' font-size="18" font-weight="bold" text-anchor="middle" fill="#111" textLength="30.0" lengthAdjust="spacingAndGlyphs" stroke="#111" stroke-width="0.4">500</text>
<text x="574.7" y="447.5" font-family='"Liberation Serif", serif' font-size="18" font-weight="bold" text-anchor="middle" fill="#111" textLength="30.0" lengthAdjust="spacingAndGlyphs" stroke="#111" stroke-width="0.4">600</text>
<text x="648.0" y="447.5" font-family='"Liberation Serif", serif' font-size="18" font-weight="bold" text-anchor="middle" fill="#111" textLength="30.0" lengthAdjust="spacingAndGlyphs" stroke="#111" stroke-width="0.4">700</text>
<text x="348.6" y="466.8" font-family='"Liberation Serif", serif' font-size="20" font-weight="bold" text-anchor="start" fill="#111" textLength="93.3" lengthAdjust="spacingAndGlyphs" >Temp(°C)</text>
<text transform="translate(18.6,279) rotate(-90)" font-family='"Liberation Serif", serif' font-size="22" fill="#111" stroke="#111" stroke-width="0.3" textLength="134" lengthAdjust="spacingAndGlyphs">Resistivity(Ω·m)</text>
<text x="311.2" y="524.4" font-family='"Liberation Serif", serif' font-size="24" font-weight="normal" text-anchor="start" fill="#333" textLength="59.5" lengthAdjust="spacingAndGlyphs" xml:space="preserve">(1) R1</text>
<rect x="464.2" y="7.1" width="197.59999999999997" height="48.199999999999996" fill="#000"/>
<rect x="462.2" y="5.1" width="197.59999999999997" height="48.199999999999996" fill="#fff" stroke="#000" stroke-width="1.8"/>
<rect x="481.90000000000003" y="15.1" width="11.4" height="9.200000000000001" rx="3.1" fill="#0000ff"/>
<line x1="465.2" y1="43.1" x2="510.0" y2="43.1" stroke="#ff0000" stroke-width="2"/>
<text x="514.0" y="24.7" font-family='"Liberation Serif", serif' font-size="18" font-weight="bold" text-anchor="start" fill="#111" textLength="141.0" lengthAdjust="spacingAndGlyphs" >Resistivity(Ω·m)</text>
<text x="514.0" y="48.6" font-family='"Liberation Serif", serif' font-size="18" font-weight="bold" text-anchor="start" fill="#111" textLength="91.0" lengthAdjust="spacingAndGlyphs" >Fit a curve</text>
<line x1="320.0" y1="62.3" x2="681.0" y2="62.3" stroke="#000" stroke-width="2"/>
<line x1="320.0" y1="86.1" x2="681.0" y2="86.1" stroke="#000" stroke-width="2"/>
<line x1="320.0" y1="128.8" x2="681.0" y2="128.8" stroke="#000" stroke-width="2"/>
<line x1="320.0" y1="149.2" x2="681.0" y2="149.2" stroke="#000" stroke-width="2"/>
<line x1="320.0" y1="173.4" x2="681.0" y2="173.4" stroke="#000" stroke-width="2"/>
<line x1="320.0" y1="196.4" x2="681.0" y2="196.4" stroke="#000" stroke-width="2"/>
<line x1="320.0" y1="218.9" x2="681.0" y2="218.9" stroke="#000" stroke-width="2"/>
<line x1="320.0" y1="241.6" x2="681.0" y2="241.6" stroke="#000" stroke-width="2"/>
<line x1="320.0" y1="263.8" x2="681.0" y2="263.8" stroke="#000" stroke-width="2"/>
<line x1="320.0" y1="286.8" x2="681.0" y2="286.8" stroke="#000" stroke-width="2"/>
<line x1="320.0" y1="307.4" x2="681.0" y2="307.4" stroke="#000" stroke-width="2"/>
<line x1="321.0" y1="61.3" x2="321.0" y2="308.4" stroke="#000" stroke-width="2"/>
<line x1="451.0" y1="62.3" x2="451.0" y2="307.4" stroke="#000" stroke-width="2"/>
<line x1="680.0" y1="61.3" x2="680.0" y2="308.4" stroke="#000" stroke-width="2"/>
<text x="324.2" y="79.5" font-family='"Liberation Mono", monospace' font-size="15.5" font-weight="normal" text-anchor="start" fill="#2a2a2a" textLength="46.8" lengthAdjust="spacingAndGlyphs" xml:space="preserve">Model</text>
<text x="324.2" y="112.8" font-family='"Liberation Mono", monospace' font-size="15.5" font-weight="normal" text-anchor="start" fill="#2a2a2a" textLength="75.7" lengthAdjust="spacingAndGlyphs" xml:space="preserve">Equation</text>
<text x="324.2" y="144.3" font-family='"Liberation Mono", monospace' font-size="15.5" font-weight="normal" text-anchor="start" fill="#2a2a2a" textLength="37.1" lengthAdjust="spacingAndGlyphs" xml:space="preserve">Plot</text>
<text x="324.2" y="166.6" font-family='"Liberation Mono", monospace' font-size="15.5" font-weight="normal" text-anchor="start" fill="#2a2a2a" textLength="17.8" lengthAdjust="spacingAndGlyphs" xml:space="preserve">y0</text>
<text x="324.2" y="190.2" font-family='"Liberation Mono", monospace' font-size="15.5" font-weight="normal" text-anchor="start" fill="#2a2a2a" textLength="17.8" lengthAdjust="spacingAndGlyphs" xml:space="preserve">xc</text>
<text x="324.2" y="213.0" font-family='"Liberation Mono", monospace' font-size="15.5" font-weight="normal" text-anchor="start" fill="#2a2a2a" textLength="8.2" lengthAdjust="spacingAndGlyphs" xml:space="preserve">w</text>
<text x="324.2" y="235.6" font-family='"Liberation Mono", monospace' font-size="15.5" font-weight="normal" text-anchor="start" fill="#2a2a2a" textLength="8.2" lengthAdjust="spacingAndGlyphs" xml:space="preserve">A</text>
<text x="324.2" y="258.0" font-family='"Liberation Mono", monospace' font-size="15.5" font-weight="normal" text-anchor="start" fill="#2a2a2a" textLength="124.0" lengthAdjust="spacingAndGlyphs" xml:space="preserve">Reduced Chi-S</text>
<text x="324.2" y="280.6" font-family='"Liberation Mono", monospace' font-size="15.5" font-weight="normal" text-anchor="start" fill="#2a2a2a" textLength="124.0" lengthAdjust="spacingAndGlyphs" xml:space="preserve">R-Square (COD</text>
<text x="324.2" y="302.4" font-family='"Liberation Mono", monospace' font-size="15.5" font-weight="normal" text-anchor="start" fill="#2a2a2a" textLength="124.0" lengthAdjust="spacingAndGlyphs" xml:space="preserve">Adj. R-Square</text>
<text x="565.5" y="77.0" font-family='"Liberation Mono", monospace' font-size="15.5" font-weight="normal" text-anchor="middle" fill="#2a2a2a" textLength="66.0" lengthAdjust="spacingAndGlyphs" xml:space="preserve">Lorentz</text>
<text x="565.5" y="100.5" font-family='"Liberation Mono", monospace' font-size="15.5" font-weight="normal" text-anchor="middle" fill="#2a2a2a" textLength="220.5" lengthAdjust="spacingAndGlyphs" xml:space="preserve">y = y0 + (2*A/pi)*(w/(4</text>
<text x="565.5" y="118.3" font-family='"Liberation Mono", monospace' font-size="15.5" font-weight="normal" text-anchor="middle" fill="#2a2a2a" textLength="162.6" lengthAdjust="spacingAndGlyphs" xml:space="preserve">*(x-xc)^2 + w^2))</text>
<text x="565.5" y="141.8" font-family='"Liberation Mono", monospace' font-size="15.5" font-weight="normal" text-anchor="middle" fill="#2a2a2a" textLength="8.2" lengthAdjust="spacingAndGlyphs" xml:space="preserve">B</text>
<text x="565.5" y="165.5" font-family='"Liberation Mono", monospace' font-size="15.5" font-weight="normal" text-anchor="middle" fill="#2a2a2a" textLength="220.5" lengthAdjust="spacingAndGlyphs" xml:space="preserve">1.11392E7 ± 3375840.38</text>
<text x="565.5" y="187.7" font-family='"Liberation Mono", monospace' font-size="15.5" font-weight="normal" text-anchor="middle" fill="#2a2a2a" textLength="181.8" lengthAdjust="spacingAndGlyphs" xml:space="preserve">74.67506 ± 0.67457</text>
<text x="565.5" y="210.5" font-family='"Liberation Mono", monospace' font-size="15.5" font-weight="normal" text-anchor="middle" fill="#2a2a2a" textLength="181.8" lengthAdjust="spacingAndGlyphs" xml:space="preserve">88.72229 ± 2.17425</text>
<text x="565.5" y="233.1" font-family='"Liberation Mono", monospace' font-size="15.5" font-weight="normal" text-anchor="middle" fill="#2a2a2a" textLength="220.5" lengthAdjust="spacingAndGlyphs" xml:space="preserve">7.70179E10 ± 2.08434E9</text>
<text x="565.5" y="255.5" font-family='"Liberation Mono", monospace' font-size="15.5" font-weight="normal" text-anchor="middle" fill="#2a2a2a" textLength="95.0" lengthAdjust="spacingAndGlyphs" xml:space="preserve">1.05436E15</text>
<text x="565.5" y="278.1" font-family='"Liberation Mono", monospace' font-size="15.5" font-weight="normal" text-anchor="middle" fill="#2a2a2a" textLength="66.0" lengthAdjust="spacingAndGlyphs" xml:space="preserve">0.97084</text>
<text x="565.5" y="299.9" font-family='"Liberation Mono", monospace' font-size="15.5" font-weight="normal" text-anchor="middle" fill="#2a2a2a" textLength="66.0" lengthAdjust="spacingAndGlyphs" xml:space="preserve">0.97018</text>
<rect x="129.5" y="916.2" width="9.0" height="8.5" rx="2.8" fill="#0000ff"/>
<rect x="136.5" y="916.2" width="9.0" height="8.5" rx="2.8" fill="#0000ff"/>
<rect x="144.0" y="915.7" width="9.0" height="8.5" rx="2.8" fill="#0000ff"/>
<rect x="151.0" y="915.2" width="9.0" height="8.5" rx="2.8" fill="#0000ff"/>
<rect x="156.5" y="914.2" width="9.0" height="8.5" rx="2.8" fill="#0000ff"/>
<rect x="161.0" y="911.2" width="9.0" height="8.5" rx="2.8" fill="#0000ff"/>
<rect x="166.0" y="908.2" width="9.0" height="8.5" rx="2.8" fill="#0000ff"/>
<rect x="170.0" y="906.2" width="9.0" height="8.5" rx="2.8" fill="#0000ff"/>
<rect x="175.7" y="892.4" width="9.0" height="8.5" rx="2.8" fill="#0000ff"/>
<rect x="183.5" y="842.4" width="9.0" height="8.5" rx="2.8" fill="#0000ff"/>
<rect x="188.3" y="768.7" width="9.0" height="8.5" rx="2.8" fill="#0000ff"/>
<rect x="190.1" y="736.9" width="9.0" height="8.5" rx="2.8" fill="#0000ff"/>
<rect x="195.2" y="690.9" width="9.0" height="8.5" rx="2.8" fill="#0000ff"/>
<rect x="197.4" y="666.1" width="9.0" height="8.5" rx="2.8" fill="#0000ff"/>
<rect x="201.8" y="639.1" width="9.0" height="8.5" rx="2.8" fill="#0000ff"/>
<rect x="205.4" y="624.7" width="9.0" height="8.5" rx="2.8" fill="#0000ff"/>
<rect x="212.0" y="608.7" width="9.0" height="8.5" rx="2.8" fill="#0000ff"/>
<rect x="214.0" y="613.2" width="9.0" height="8.5" rx="2.8" fill="#0000ff"/>
<rect x="218.6" y="637.6" width="9.0" height="8.5" rx="2.8" fill="#0000ff"/>
<rect x="221.5" y="651.5" width="9.0" height="8.5" rx="2.8" fill="#0000ff"/>
<rect x="228.8" y="681.7" width="9.0" height="8.5" rx="2.8" fill="#0000ff"/>
<rect x="236.1" y="711.3" width="9.0" height="8.5" rx="2.8" fill="#0000ff"/>
<rect x="244.1" y="736.6" width="9.0" height="8.5" rx="2.8" fill="#0000ff"/>
<rect x="250.7" y="755.8" width="9.0" height="8.5" rx="2.8" fill="#0000ff"/>
<rect x="258.7" y="765.3" width="9.0" height="8.5" rx="2.8" fill="#0000ff"/>
<rect x="266.7" y="780.7" width="9.0" height="8.5" rx="2.8" fill="#0000ff"/>
<rect x="275.1" y="795.8" width="9.0" height="8.5" rx="2.8" fill="#0000ff"/>
<rect x="281.5" y="808.7" width="9.0" height="8.5" rx="2.8" fill="#0000ff"/>
<rect x="289.5" y="824.1" width="9.0" height="8.5" rx="2.8" fill="#0000ff"/>
<rect x="297.5" y="838.6" width="9.0" height="8.5" rx="2.8" fill="#0000ff"/>
<rect x="304.7" y="853.2" width="9.0" height="8.5" rx="2.8" fill="#0000ff"/>
<rect x="311.8" y="867.2" width="9.0" height="8.5" rx="2.8" fill="#0000ff"/>
<rect x="319.7" y="880.4" width="9.0" height="8.5" rx="2.8" fill="#0000ff"/>
<rect x="327.0" y="890.9" width="9.0" height="8.5" rx="2.8" fill="#0000ff"/>
<rect x="335.4" y="897.4" width="9.0" height="8.5" rx="2.8" fill="#0000ff"/>
<rect x="344.1" y="906.1" width="9.0" height="8.5" rx="2.8" fill="#0000ff"/>
<rect x="352.0" y="911.9" width="9.0" height="8.5" rx="2.8" fill="#0000ff"/>
<rect x="356.6" y="913.4" width="9.0" height="8.5" rx="2.8" fill="#0000ff"/>
<rect x="361.2" y="914.9" width="9.0" height="8.5" rx="2.8" fill="#0000ff"/>
<rect x="365.6" y="915.6" width="9.0" height="8.5" rx="2.8" fill="#0000ff"/>
<rect x="369.9" y="916.3" width="9.0" height="8.5" rx="2.8" fill="#0000ff"/>
<rect x="374.3" y="917.0" width="9.0" height="8.5" rx="2.8" fill="#0000ff"/>
<rect x="377.8" y="917.1" width="9.0" height="8.5" rx="2.8" fill="#0000ff"/>
<rect x="381.4" y="917.3" width="9.0" height="8.5" rx="2.8" fill="#0000ff"/>
<rect x="384.9" y="917.4" width="9.0" height="8.5" rx="2.8" fill="#0000ff"/>
<rect x="388.4" y="917.5" width="9.0" height="8.5" rx="2.8" fill="#0000ff"/>
<rect x="392.0" y="917.6" width="9.0" height="8.5" rx="2.8" fill="#0000ff"/>
<rect x="395.5" y="917.7" width="9.0" height="8.5" rx="2.8" fill="#0000ff"/>
<rect x="399.3" y="917.8" width="9.0" height="8.5" rx="2.8" fill="#0000ff"/>
<rect x="403.2" y="917.8" width="9.0" height="8.5" rx="2.8" fill="#0000ff"/>
<rect x="407.0" y="917.9" width="9.0" height="8.5" rx="2.8" fill="#0000ff"/>
<rect x="410.9" y="918.0" width="9.0" height="8.5" rx="2.8" fill="#0000ff"/>
<rect x="414.7" y="918.0" width="9.0" height="8.5" rx="2.8" fill="#0000ff"/>
<rect x="418.6" y="918.1" width="9.0" height="8.5" rx="2.8" fill="#0000ff"/>
<rect x="422.4" y="918.2" width="9.0" height="8.5" rx="2.8" fill="#0000ff"/>
<rect x="426.3" y="918.2" width="9.0" height="8.5" rx="2.8" fill="#0000ff"/>
<rect x="430.1" y="918.3" width="9.0" height="8.5" rx="2.8" fill="#0000ff"/>
<rect x="434.0" y="918.3" width="9.0" height="8.5" rx="2.8" fill="#0000ff"/>
<rect x="437.8" y="918.4" width="9.0" height="8.5" rx="2.8" fill="#0000ff"/>
<rect x="441.7" y="918.5" width="9.0" height="8.5" rx="2.8" fill="#0000ff"/>
<rect x="445.5" y="918.5" width="9.0" height="8.5" rx="2.8" fill="#0000ff"/>
<rect x="449.4" y="918.6" width="9.0" height="8.5" rx="2.8" fill="#0000ff"/>
<rect x="453.3" y="918.7" width="9.0" height="8.5" rx="2.8" fill="#0000ff"/>
<rect x="457.2" y="918.7" width="9.0" height="8.5" rx="2.8" fill="#0000ff"/>
<rect x="461.1" y="918.8" width="9.0" height="8.5" rx="2.8" fill="#0000ff"/>
<rect x="464.9" y="918.9" width="9.0" height="8.5" rx="2.8" fill="#0000ff"/>
<rect x="468.8" y="918.9" width="9.0" height="8.5" rx="2.8" fill="#0000ff"/>
<rect x="472.7" y="919.0" width="9.0" height="8.5" rx="2.8" fill="#0000ff"/>
<rect x="476.6" y="919.1" width="9.0" height="8.5" rx="2.8" fill="#0000ff"/>
<rect x="480.5" y="919.1" width="9.0" height="8.5" rx="2.8" fill="#0000ff"/>
<rect x="484.4" y="919.2" width="9.0" height="8.5" rx="2.8" fill="#0000ff"/>
<rect x="488.3" y="919.3" width="9.0" height="8.5" rx="2.8" fill="#0000ff"/>
<rect x="492.2" y="919.3" width="9.0" height="8.5" rx="2.8" fill="#0000ff"/>
<rect x="496.1" y="919.4" width="9.0" height="8.5" rx="2.8" fill="#0000ff"/>
<rect x="499.9" y="919.5" width="9.0" height="8.5" rx="2.8" fill="#0000ff"/>
<rect x="503.8" y="919.5" width="9.0" height="8.5" rx="2.8" fill="#0000ff"/>
<rect x="507.7" y="919.6" width="9.0" height="8.5" rx="2.8" fill="#0000ff"/>
<rect x="511.6" y="919.7" width="9.0" height="8.5" rx="2.8" fill="#0000ff"/>
<rect x="515.5" y="919.7" width="9.0" height="8.5" rx="2.8" fill="#0000ff"/>
<rect x="519.3" y="919.8" width="9.0" height="8.5" rx="2.8" fill="#0000ff"/>
<rect x="523.1" y="919.9" width="9.0" height="8.5" rx="2.8" fill="#0000ff"/>
<rect x="526.9" y="919.9" width="9.0" height="8.5" rx="2.8" fill="#0000ff"/>
<rect x="530.7" y="920.0" width="9.0" height="8.5" rx="2.8" fill="#0000ff"/>
<rect x="534.5" y="920.1" width="9.0" height="8.5" rx="2.8" fill="#0000ff"/>
<rect x="538.4" y="920.2" width="9.0" height="8.5" rx="2.8" fill="#0000ff"/>
<rect x="542.2" y="920.2" width="9.0" height="8.5" rx="2.8" fill="#0000ff"/>
<rect x="546.0" y="920.3" width="9.0" height="8.5" rx="2.8" fill="#0000ff"/>
<rect x="549.8" y="920.4" width="9.0" height="8.5" rx="2.8" fill="#0000ff"/>
<rect x="553.6" y="920.4" width="9.0" height="8.5" rx="2.8" fill="#0000ff"/>
<rect x="557.4" y="920.5" width="9.0" height="8.5" rx="2.8" fill="#0000ff"/>
<rect x="561.2" y="920.6" width="9.0" height="8.5" rx="2.8" fill="#0000ff"/>
<rect x="565.0" y="920.7" width="9.0" height="8.5" rx="2.8" fill="#0000ff"/>
<rect x="568.8" y="920.7" width="9.0" height="8.5" rx="2.8" fill="#0000ff"/>
<rect x="572.6" y="920.8" width="9.0" height="8.5" rx="2.8" fill="#0000ff"/>
<rect x="576.5" y="920.9" width="9.0" height="8.5" rx="2.8" fill="#0000ff"/>
<rect x="580.3" y="920.9" width="9.0" height="8.5" rx="2.8" fill="#0000ff"/>
<rect x="584.1" y="921.0" width="9.0" height="8.5" rx="2.8" fill="#0000ff"/>
<rect x="587.9" y="921.1" width="9.0" height="8.5" rx="2.8" fill="#0000ff"/>
<rect x="591.7" y="921.2" width="9.0" height="8.5" rx="2.8" fill="#0000ff"/>
<rect x="595.5" y="921.2" width="9.0" height="8.5" rx="2.8" fill="#0000ff"/>
<rect x="599.3" y="921.3" width="9.0" height="8.5" rx="2.8" fill="#0000ff"/>
<rect x="603.0" y="921.3" width="9.0" height="8.5" rx="2.8" fill="#0000ff"/>
<rect x="606.8" y="921.3" width="9.0" height="8.5" rx="2.8" fill="#0000ff"/>
<rect x="610.6" y="921.4" width="9.0" height="8.5" rx="2.8" fill="#0000ff"/>
<rect x="614.3" y="921.4" width="9.0" height="8.5" rx="2.8" fill="#0000ff"/>
<rect x="618.1" y="921.5" width="9.0" height="8.5" rx="2.8" fill="#0000ff"/>
<rect x="621.9" y="921.5" width="9.0" height="8.5" rx="2.8" fill="#0000ff"/>
<rect x="625.7" y="921.5" width="9.0" height="8.5" rx="2.8" fill="#0000ff"/>
<rect x="629.4" y="921.6" width="9.0" height="8.5" rx="2.8" fill="#0000ff"/>
<rect x="633.2" y="921.6" width="9.0" height="8.5" rx="2.8" fill="#0000ff"/>
<rect x="637.0" y="921.6" width="9.0" height="8.5" rx="2.8" fill="#0000ff"/>
<rect x="640.7" y="921.7" width="9.0" height="8.5" rx="2.8" fill="#0000ff"/>
<rect x="644.5" y="921.7" width="9.0" height="8.5" rx="2.8" fill="#0000ff"/>
<rect x="132.2" y="918.9" width="2.6" height="2" fill="#8c8cff"/>
<rect x="139.2" y="918.9" width="2.6" height="2" fill="#8c8cff"/>
<rect x="146.7" y="918.4" width="2.6" height="2" fill="#8c8cff"/>
<rect x="153.7" y="917.9" width="2.6" height="2" fill="#8c8cff"/>
<rect x="159.2" y="916.9" width="2.6" height="2" fill="#8c8cff"/>
<rect x="163.7" y="913.9" width="2.6" height="2" fill="#8c8cff"/>
<rect x="168.7" y="910.9" width="2.6" height="2" fill="#8c8cff"/>
<rect x="172.7" y="908.9" width="2.6" height="2" fill="#8c8cff"/>
<rect x="178.4" y="895.1" width="2.6" height="2" fill="#8c8cff"/>
<rect x="186.2" y="845.1" width="2.6" height="2" fill="#8c8cff"/>
<rect x="191.0" y="771.4" width="2.6" height="2" fill="#8c8cff"/>
<rect x="192.8" y="739.6" width="2.6" height="2" fill="#8c8cff"/>
<rect x="197.9" y="693.6" width="2.6" height="2" fill="#8c8cff"/>
<rect x="200.1" y="668.8" width="2.6" height="2" fill="#8c8cff"/>
<rect x="204.5" y="641.8" width="2.6" height="2" fill="#8c8cff"/>
<rect x="208.1" y="627.4" width="2.6" height="2" fill="#8c8cff"/>
<rect x="214.7" y="611.4" width="2.6" height="2" fill="#8c8cff"/>
<rect x="216.7" y="615.9" width="2.6" height="2" fill="#8c8cff"/>
<rect x="221.3" y="640.3" width="2.6" height="2" fill="#8c8cff"/>
<rect x="224.2" y="654.2" width="2.6" height="2" fill="#8c8cff"/>
<rect x="231.5" y="684.4" width="2.6" height="2" fill="#8c8cff"/>
<rect x="238.8" y="714.0" width="2.6" height="2" fill="#8c8cff"/>
<rect x="246.8" y="739.3" width="2.6" height="2" fill="#8c8cff"/>
<rect x="253.4" y="758.5" width="2.6" height="2" fill="#8c8cff"/>
<rect x="261.4" y="768.0" width="2.6" height="2" fill="#8c8cff"/>
<rect x="269.4" y="783.4" width="2.6" height="2" fill="#8c8cff"/>
<rect x="277.8" y="798.5" width="2.6" height="2" fill="#8c8cff"/>
<rect x="284.2" y="811.4" width="2.6" height="2" fill="#8c8cff"/>
<rect x="292.2" y="826.8" width="2.6" height="2" fill="#8c8cff"/>
<rect x="300.2" y="841.3" width="2.6" height="2" fill="#8c8cff"/>
<rect x="307.4" y="855.9" width="2.6" height="2" fill="#8c8cff"/>
<rect x="314.5" y="869.9" width="2.6" height="2" fill="#8c8cff"/>
<rect x="322.4" y="883.1" width="2.6" height="2" fill="#8c8cff"/>
<rect x="329.7" y="893.6" width="2.6" height="2" fill="#8c8cff"/>
<rect x="338.1" y="900.1" width="2.6" height="2" fill="#8c8cff"/>
<rect x="346.8" y="908.8" width="2.6" height="2" fill="#8c8cff"/>
<rect x="354.7" y="914.6" width="2.6" height="2" fill="#8c8cff"/>
<rect x="359.3" y="916.1" width="2.6" height="2" fill="#8c8cff"/>
<rect x="363.9" y="917.6" width="2.6" height="2" fill="#8c8cff"/>
<rect x="368.3" y="918.3" width="2.6" height="2" fill="#8c8cff"/>
<rect x="372.6" y="919.0" width="2.6" height="2" fill="#8c8cff"/>
<rect x="377.0" y="919.7" width="2.6" height="2" fill="#8c8cff"/>
<rect x="380.5" y="919.8" width="2.6" height="2" fill="#8c8cff"/>
<rect x="384.1" y="919.9" width="2.6" height="2" fill="#8c8cff"/>
<rect x="387.6" y="920.0" width="2.6" height="2" fill="#8c8cff"/>
<rect x="391.1" y="920.2" width="2.6" height="2" fill="#8c8cff"/>
<rect x="394.7" y="920.3" width="2.6" height="2" fill="#8c8cff"/>
<rect x="398.2" y="920.4" width="2.6" height="2" fill="#8c8cff"/>
<rect x="402.0" y="920.5" width="2.6" height="2" fill="#8c8cff"/>
<rect x="405.9" y="920.5" width="2.6" height="2" fill="#8c8cff"/>
<rect x="409.7" y="920.6" width="2.6" height="2" fill="#8c8cff"/>
<rect x="413.6" y="920.6" width="2.6" height="2" fill="#8c8cff"/>
<rect x="417.4" y="920.7" width="2.6" height="2" fill="#8c8cff"/>
<rect x="421.3" y="920.8" width="2.6" height="2" fill="#8c8cff"/>
<rect x="425.1" y="920.8" width="2.6" height="2" fill="#8c8cff"/>
<rect x="429.0" y="920.9" width="2.6" height="2" fill="#8c8cff"/>
<rect x="432.8" y="921.0" width="2.6" height="2" fill="#8c8cff"/>
<rect x="436.7" y="921.0" width="2.6" height="2" fill="#8c8cff"/>
<rect x="440.5" y="921.1" width="2.6" height="2" fill="#8c8cff"/>
<rect x="444.4" y="921.1" width="2.6" height="2" fill="#8c8cff"/>
<rect x="448.2" y="921.2" width="2.6" height="2" fill="#8c8cff"/>
<rect x="452.1" y="921.3" width="2.6" height="2" fill="#8c8cff"/>
<rect x="456.0" y="921.3" width="2.6" height="2" fill="#8c8cff"/>
<rect x="459.9" y="921.4" width="2.6" height="2" fill="#8c8cff"/>
<rect x="463.8" y="921.5" width="2.6" height="2" fill="#8c8cff"/>
<rect x="467.6" y="921.5" width="2.6" height="2" fill="#8c8cff"/>
<rect x="471.5" y="921.6" width="2.6" height="2" fill="#8c8cff"/>
<rect x="475.4" y="921.7" width="2.6" height="2" fill="#8c8cff"/>
<rect x="479.3" y="921.7" width="2.6" height="2" fill="#8c8cff"/>
<rect x="483.2" y="921.8" width="2.6" height="2" fill="#8c8cff"/>
<rect x="487.1" y="921.9" width="2.6" height="2" fill="#8c8cff"/>
<rect x="491.0" y="921.9" width="2.6" height="2" fill="#8c8cff"/>
<rect x="494.9" y="922.0" width="2.6" height="2" fill="#8c8cff"/>
<rect x="498.8" y="922.1" width="2.6" height="2" fill="#8c8cff"/>
<rect x="502.6" y="922.1" width="2.6" height="2" fill="#8c8cff"/>
<rect x="506.5" y="922.2" width="2.6" height="2" fill="#8c8cff"/>
<rect x="510.4" y="922.3" width="2.6" height="2" fill="#8c8cff"/>
<rect x="514.3" y="922.3" width="2.6" height="2" fill="#8c8cff"/>
<rect x="518.2" y="922.4" width="2.6" height="2" fill="#8c8cff"/>
<rect x="522.0" y="922.5" width="2.6" height="2" fill="#8c8cff"/>
<rect x="525.8" y="922.5" width="2.6" height="2" fill="#8c8cff"/>
<rect x="529.6" y="922.6" width="2.6" height="2" fill="#8c8cff"/>
<rect x="533.4" y="922.7" width="2.6" height="2" fill="#8c8cff"/>
<rect x="537.2" y="922.8" width="2.6" height="2" fill="#8c8cff"/>
<rect x="541.1" y="922.8" width="2.6" height="2" fill="#8c8cff"/>
<rect x="544.9" y="922.9" width="2.6" height="2" fill="#8c8cff"/>
<rect x="548.7" y="923.0" width="2.6" height="2" fill="#8c8cff"/>
<rect x="552.5" y="923.0" width="2.6" height="2" fill="#8c8cff"/>
<rect x="556.3" y="923.1" width="2.6" height="2" fill="#8c8cff"/>
<rect x="560.1" y="923.2" width="2.6" height="2" fill="#8c8cff"/>
<rect x="563.9" y="923.3" width="2.6" height="2" fill="#8c8cff"/>
<rect x="567.7" y="923.3" width="2.6" height="2" fill="#8c8cff"/>
<rect x="571.5" y="923.4" width="2.6" height="2" fill="#8c8cff"/>
<rect x="575.3" y="923.5" width="2.6" height="2" fill="#8c8cff"/>
<rect x="579.2" y="923.5" width="2.6" height="2" fill="#8c8cff"/>
<rect x="583.0" y="923.6" width="2.6" height="2" fill="#8c8cff"/>
<rect x="586.8" y="923.7" width="2.6" height="2" fill="#8c8cff"/>
<rect x="590.6" y="923.8" width="2.6" height="2" fill="#8c8cff"/>
<rect x="594.4" y="923.8" width="2.6" height="2" fill="#8c8cff"/>
<rect x="598.2" y="923.9" width="2.6" height="2" fill="#8c8cff"/>
<rect x="602.0" y="923.9" width="2.6" height="2" fill="#8c8cff"/>
<rect x="605.7" y="924.0" width="2.6" height="2" fill="#8c8cff"/>
<rect x="609.5" y="924.0" width="2.6" height="2" fill="#8c8cff"/>
<rect x="613.3" y="924.1" width="2.6" height="2" fill="#8c8cff"/>
<rect x="617.0" y="924.1" width="2.6" height="2" fill="#8c8cff"/>
<rect x="620.8" y="924.1" width="2.6" height="2" fill="#8c8cff"/>
<rect x="624.6" y="924.2" width="2.6" height="2" fill="#8c8cff"/>
<rect x="628.4" y="924.2" width="2.6" height="2" fill="#8c8cff"/>
<rect x="632.1" y="924.2" width="2.6" height="2" fill="#8c8cff"/>
<rect x="635.9" y="924.3" width="2.6" height="2" fill="#8c8cff"/>
<rect x="639.7" y="924.3" width="2.6" height="2" fill="#8c8cff"/>
<rect x="643.4" y="924.4" width="2.6" height="2" fill="#8c8cff"/>
<rect x="647.2" y="924.4" width="2.6" height="2" fill="#8c8cff"/>
<polyline points="135.0,901.3 135.5,901.0 136.0,900.7 136.5,900.4 137.0,900.0 137.5,899.7 138.0,899.4 138.5,899.1 139.0,898.7 139.5,898.4 140.0,898.0 140.5,897.7 141.0,897.3 141.5,896.9 142.0,896.6 142.5,896.2 143.0,895.8 143.5,895.4 144.0,895.0 144.5,894.6 145.0,894.1 145.5,893.7 146.0,893.3 146.5,892.8 147.0,892.3 147.5,891.9 148.0,891.4 148.5,890.9 149.0,890.4 149.5,889.9 150.0,889.4 150.5,888.8 151.0,888.3 151.5,887.7 152.0,887.1 152.5,886.6 153.0,886.0 153.5,885.4 154.0,884.7 154.5,884.1 155.0,883.5 155.5,882.8 156.0,882.1 156.5,881.4 157.0,880.7 157.5,880.0 158.0,879.2 158.5,878.5 159.0,877.7 159.5,876.9 160.0,876.1 160.5,875.3 161.0,874.4 161.5,873.6 162.0,872.7 162.5,871.8 163.0,870.9 163.5,869.9 164.0,868.9 164.5,867.9 165.0,866.9 165.5,865.9 166.0,864.8 166.5,863.8 167.0,862.7 167.5,861.5 168.0,860.4 168.5,859.2 169.0,858.0 169.5,856.7 170.0,855.5 170.5,854.2 171.0,852.9 171.5,851.5 172.0,850.2 172.5,848.8 173.0,847.3 173.5,845.9 174.0,844.4 174.5,842.9 175.0,841.3 175.5,839.7 176.0,838.1 176.5,836.4 177.0,834.8 177.5,833.1 178.0,831.3 178.5,829.5 179.0,827.7 179.5,825.9 180.0,824.0 180.5,822.1 181.0,820.1 181.5,818.1 182.0,816.1 182.5,814.0 183.0,812.0 183.5,809.8 184.0,807.7 184.5,805.5 185.0,803.3 185.5,801.0 186.0,798.7 186.5,796.4 187.0,794.1 187.5,791.7 188.0,789.2 188.5,786.8 189.0,784.3 189.5,781.8 190.0,779.3 190.5,776.7 191.0,774.1 191.5,771.5 192.0,768.9 192.5,766.2 193.0,763.5 193.5,760.8 194.0,758.1 194.5,755.3 195.0,752.6 195.5,749.8 196.0,747.0 196.5,744.2 197.0,741.4 197.5,738.5 198.0,735.7 198.5,732.8 199.0,730.0 199.5,727.1 200.0,724.3 200.5,721.4 201.0,718.6 201.5,715.7 202.0,712.9 202.5,710.1 203.0,707.2 203.5,704.4 204.0,701.7 204.5,698.9 205.0,696.1 205.5,693.4 206.0,690.7 206.5,688.1 207.0,685.4 207.5,682.8 208.0,680.3 208.5,677.7 209.0,675.3 209.5,672.8 210.0,670.4 210.5,668.1 211.0,665.8 211.5,663.5 212.0,661.3 212.5,659.2 213.0,657.1 213.5,655.1 214.0,653.2 214.5,651.3 215.0,649.5 215.5,647.7 216.0,646.1 216.5,644.5 217.0,643.0 217.5,641.5 218.0,640.2 218.5,638.9 219.0,637.7 219.5,636.6 220.0,635.6 220.5,634.6 221.0,633.8 221.5,633.0 222.0,632.3 222.5,631.7 223.0,631.3 223.5,630.9 224.0,630.5 224.5,630.3 225.0,630.2 225.5,630.2 226.0,630.2 226.5,630.4 227.0,630.7 227.5,631.0 228.0,631.4 228.5,632.0 229.0,632.6 229.5,633.3 230.0,634.1 230.5,635.0 231.0,635.9 231.5,637.0 232.0,638.1 232.5,639.4 233.0,640.7 233.5,642.1 234.0,643.5 234.5,645.1 235.0,646.7 235.5,648.4 236.0,650.2 236.5,652.0 237.0,653.9 237.5,655.9 238.0,657.9 238.5,660.0 239.0,662.2 239.5,664.4 240.0,666.6 240.5,668.9 241.0,671.3 241.5,673.7 242.0,676.2 242.5,678.7 243.0,681.2 243.5,683.8 244.0,686.4 244.5,689.1 245.0,691.7 245.5,694.4 246.0,697.2 246.5,699.9 247.0,702.7 247.5,705.5 248.0,708.3 248.5,711.1 249.0,714.0 249.5,716.8 250.0,719.6 250.5,722.5 251.0,725.3 251.5,728.2 252.0,731.1 252.5,733.9 253.0,736.7 253.5,739.6 254.0,742.4 254.5,745.2 255.0,748.0 255.5,750.8 256.0,753.6 256.5,756.4 257.0,759.1 257.5,761.8 258.0,764.5 258.5,767.2 259.0,769.9 259.5,772.5 260.0,775.1 260.5,777.7 261.0,780.2 261.5,782.8 262.0,785.3 262.5,787.7 263.0,790.2 263.5,792.6 264.0,794.9 264.5,797.3 265.0,799.6 265.5,801.9 266.0,804.1 266.5,806.3 267.0,808.5 267.5,810.6 268.0,812.8 268.5,814.8 269.0,816.9 269.5,818.9 270.0,820.8 270.5,822.8 271.0,824.7 271.5,826.6 272.0,828.4 272.5,830.2 273.0,832.0 273.5,833.7 274.0,835.4 274.5,837.1 275.0,838.7 275.5,840.3 276.0,841.9 276.5,843.4 277.0,844.9 277.5,846.4 278.0,847.9 278.5,849.3 279.0,850.7 279.5,852.0 280.0,853.4 280.5,854.7 281.0,856.0 281.5,857.2 282.0,858.4 282.5,859.6 283.0,860.8 283.5,862.0 284.0,863.1 284.5,864.2 285.0,865.2 285.5,866.3 286.0,867.3 286.5,868.3 287.0,869.3 287.5,870.3 288.0,871.2 288.5,872.1 289.0,873.0 289.5,873.9 290.0,874.8 290.5,875.6 291.0,876.4 291.5,877.2 292.0,878.0 292.5,878.8 293.0,879.5 293.5,880.3 294.0,881.0 294.5,881.7 295.0,882.4 295.5,883.0 296.0,883.7 296.5,884.3 297.0,885.0 297.5,885.6 298.0,886.2 298.5,886.8 299.0,887.4 299.5,887.9 300.0,888.5 300.5,889.0 301.0,889.6 301.5,890.1 302.0,890.6 302.5,891.1 303.0,891.6 303.5,892.0 304.0,892.5 304.5,893.0 305.0,893.4 305.5,893.9 306.0,894.3 306.5,894.7 307.0,895.1 307.5,895.5 308.0,895.9 308.5,896.3 309.0,896.7 309.5,897.1 310.0,897.5 310.5,897.8 311.0,898.2 311.5,898.5 312.0,898.9 312.5,899.2 313.0,899.5 313.5,899.8 314.0,900.2 314.5,900.5 315.0,900.8 315.5,901.1 316.0,901.4 316.5,901.7 317.0,901.9 317.5,902.2 318.0,902.5 318.5,902.8 319.0,903.0 319.5,903.3 320.0,903.6 320.5,903.8 321.0,904.0 321.5,904.3 322.0,904.5 322.5,904.8 323.0,905.0 323.5,905.2 324.0,905.4 324.5,905.7 325.0,905.9 325.5,906.1 326.0,906.3 326.5,906.5 327.0,906.7 327.5,906.9 328.0,907.1 328.5,907.3 329.0,907.5 329.5,907.7 330.0,907.9 330.5,908.0 331.0,908.2 331.5,908.4 332.0,908.6 332.5,908.7 333.0,908.9 333.5,909.1 334.0,909.2 334.5,909.4 335.0,909.6 335.5,909.7 336.0,909.9 336.5,910.0 337.0,910.2 337.5,910.3 338.0,910.5 338.5,910.6 339.0,910.7 339.5,910.9 340.0,911.0 340.5,911.2 341.0,911.3 341.5,911.4 342.0,911.5 342.5,911.7 343.0,911.8 343.5,911.9 344.0,912.0 344.5,912.2 345.0,912.3 345.5,912.4 346.0,912.5 346.5,912.6 347.0,912.8 347.5,912.9 348.0,913.0 348.5,913.1 349.0,913.2 349.5,913.3 350.0,913.4 350.5,913.5 351.0,913.6 351.5,913.7 352.0,913.8 352.5,913.9 353.0,914.0 353.5,914.1 354.0,914.2 354.5,914.3 355.0,914.4 355.5,914.5 356.0,914.6 356.5,914.7 357.0,914.7 357.5,914.8 358.0,914.9 358.5,915.0 359.0,915.1 359.5,915.2 360.0,915.3 360.5,915.3 361.0,915.4 361.5,915.5 362.0,915.6 362.5,915.6 363.0,915.7 363.5,915.8 364.0,915.9 364.5,916.0 365.0,916.0 365.5,916.1 366.0,916.2 366.5,916.2 367.0,916.3 367.5,916.4 368.0,916.4 368.5,916.5 369.0,916.6 369.5,916.6 370.0,916.7 370.5,916.8 371.0,916.8 371.5,916.9 372.0,917.0 372.5,917.0 373.0,917.1 373.5,917.2 374.0,917.2 374.5,917.3 375.0,917.3 375.5,917.4 376.0,917.5 376.5,917.5 377.0,917.6 377.5,917.6 378.0,917.7 378.5,917.7 379.0,917.8 379.5,917.8 380.0,917.9 380.5,917.9 381.0,918.0 381.5,918.0 382.0,918.1 382.5,918.2 383.0,918.2 383.5,918.3 384.0,918.3 384.5,918.3 385.0,918.4 385.5,918.4 386.0,918.5 386.5,918.5 387.0,918.6 387.5,918.6 388.0,918.7 388.5,918.7 389.0,918.8 389.5,918.8 390.0,918.9 390.5,918.9 391.0,918.9 391.5,919.0 392.0,919.0 392.5,919.1 393.0,919.1 393.5,919.2 394.0,919.2 394.5,919.2 395.0,919.3 395.5,919.3 396.0,919.4 396.5,919.4 397.0,919.4 397.5,919.5 398.0,919.5 398.5,919.5 399.0,919.6 399.5,919.6 400.0,919.7 400.5,919.7 401.0,919.7 401.5,919.8 402.0,919.8 402.5,919.8 403.0,919.9 403.5,919.9 404.0,919.9 404.5,920.0 405.0,920.0 405.5,920.0 406.0,920.1 406.5,920.1 407.0,920.1 407.5,920.2 408.0,920.2 408.5,920.2 409.0,920.3 409.5,920.3 410.0,920.3 410.5,920.4 411.0,920.4 411.5,920.4 412.0,920.4 412.5,920.5 413.0,920.5 413.5,920.5 414.0,920.6 414.5,920.6 415.0,920.6 415.5,920.6 416.0,920.7 416.5,920.7 417.0,920.7 417.5,920.8 418.0,920.8 418.5,920.8 419.0,920.8 419.5,920.9 420.0,920.9 420.5,920.9 421.0,920.9 421.5,921.0 422.0,921.0 422.5,921.0 423.0,921.0 423.5,921.1 424.0,921.1 424.5,921.1 425.0,921.1 425.5,921.2 426.0,921.2 426.5,921.2 427.0,921.2 427.5,921.3 428.0,921.3 428.5,921.3 429.0,921.3 429.5,921.3 430.0,921.4 430.5,921.4 431.0,921.4 431.5,921.4 432.0,921.5 432.5,921.5 433.0,921.5 433.5,921.5 434.0,921.5 434.5,921.6 435.0,921.6 435.5,921.6 436.0,921.6 436.5,921.6 437.0,921.7 437.5,921.7 438.0,921.7 438.5,921.7 439.0,921.7 439.5,921.8 440.0,921.8 440.5,921.8 441.0,921.8 441.5,921.8 442.0,921.9 442.5,921.9 443.0,921.9 443.5,921.9 444.0,921.9 444.5,922.0 445.0,922.0 445.5,922.0 446.0,922.0 446.5,922.0 447.0,922.0 447.5,922.1 448.0,922.1 448.5,922.1 449.0,922.1 449.5,922.1 450.0,922.1 450.5,922.2 451.0,922.2 451.5,922.2 452.0,922.2 452.5,922.2 453.0,922.2 453.5,922.3 454.0,922.3 454.5,922.3 455.0,922.3 455.5,922.3 456.0,922.3 456.5,922.4 457.0,922.4 457.5,922.4 458.0,922.4 458.5,922.4 459.0,922.4 459.5,922.4 460.0,922.5 460.5,922.5 461.0,922.5 461.5,922.5 462.0,922.5 462.5,922.5 463.0,922.6 463.5,922.6 464.0,922.6 464.5,922.6 465.0,922.6 465.5,922.6 466.0,922.6 466.5,922.6 467.0,922.7 467.5,922.7 468.0,922.7 468.5,922.7 469.0,922.7 469.5,922.7 470.0,922.7 470.5,922.8 471.0,922.8 471.5,922.8 472.0,922.8 472.5,922.8 473.0,922.8 473.5,922.8 474.0,922.8 474.5,922.9 475.0,922.9 475.5,922.9 476.0,922.9 476.5,922.9 477.0,922.9 477.5,922.9 478.0,922.9 478.5,923.0 479.0,923.0 479.5,923.0 480.0,923.0 480.5,923.0 481.0,923.0 481.5,923.0 482.0,923.0 482.5,923.0 483.0,923.1 483.5,923.1 484.0,923.1 484.5,923.1 485.0,923.1 485.5,923.1 486.0,923.1 486.5,923.1 487.0,923.1 487.5,923.1 488.0,923.2 488.5,923.2 489.0,923.2 489.5,923.2 490.0,923.2 490.5,923.2 491.0,923.2 491.5,923.2 492.0,923.2 492.5,923.3 493.0,923.3 493.5,923.3 494.0,923.3 494.5,923.3 495.0,923.3 495.5,923.3 496.0,923.3 496.5,923.3 497.0,923.3 497.5,923.3 498.0,923.4 498.5,923.4 499.0,923.4 499.5,923.4 500.0,923.4 500.5,923.4 501.0,923.4 501.5,923.4 502.0,923.4 502.5,923.4 503.0,923.4 503.5,923.5 504.0,923.5 504.5,923.5 505.0,923.5 505.5,923.5 506.0,923.5 506.5,923.5 507.0,923.5 507.5,923.5 508.0,923.5 508.5,923.5 509.0,923.6 509.5,923.6 510.0,923.6 510.5,923.6 511.0,923.6 511.5,923.6 512.0,923.6 512.5,923.6 513.0,923.6 513.5,923.6 514.0,923.6 514.5,923.6 515.0,923.6 515.5,923.7 516.0,923.7 516.5,923.7 517.0,923.7 517.5,923.7 518.0,923.7 518.5,923.7 519.0,923.7 519.5,923.7 520.0,923.7 520.5,923.7 521.0,923.7 521.5,923.7 522.0,923.8 522.5,923.8 523.0,923.8 523.5,923.8 524.0,923.8 524.5,923.8 525.0,923.8 525.5,923.8 526.0,923.8 526.5,923.8 527.0,923.8 527.5,923.8 528.0,923.8 528.5,923.8 529.0,923.9 529.5,923.9 530.0,923.9 530.5,923.9 531.0,923.9 531.5,923.9 532.0,923.9 532.5,923.9 533.0,923.9 533.5,923.9 534.0,923.9 534.5,923.9 535.0,923.9 535.5,923.9 536.0,923.9 536.5,923.9 537.0,924.0 537.5,924.0 538.0,924.0 538.5,924.0 539.0,924.0 539.5,924.0 540.0,924.0 540.5,924.0 541.0,924.0 541.5,924.0 542.0,924.0 542.5,924.0 543.0,924.0 543.5,924.0 544.0,924.0 544.5,924.0 545.0,924.0 545.5,924.1 546.0,924.1 546.5,924.1 547.0,924.1 547.5,924.1 548.0,924.1 548.5,924.1 549.0,924.1 549.5,924.1 550.0,924.1 550.5,924.1 551.0,924.1 551.5,924.1 552.0,924.1 552.5,924.1 553.0,924.1 553.5,924.1 554.0,924.1 554.5,924.2 555.0,924.2 555.5,924.2 556.0,924.2 556.5,924.2 557.0,924.2 557.5,924.2 558.0,924.2 558.5,924.2 559.0,924.2 559.5,924.2 560.0,924.2 560.5,924.2 561.0,924.2 561.5,924.2 562.0,924.2 562.5,924.2 563.0,924.2 563.5,924.2 564.0,924.3 564.5,924.3 565.0,924.3 565.5,924.3 566.0,924.3 566.5,924.3 567.0,924.3 567.5,924.3 568.0,924.3 568.5,924.3 569.0,924.3 569.5,924.3 570.0,924.3 570.5,924.3 571.0,924.3 571.5,924.3 572.0,924.3 572.5,924.3 573.0,924.3 573.5,924.3 574.0,924.3 574.5,924.3 575.0,924.4 575.5,924.4 576.0,924.4 576.5,924.4 577.0,924.4 577.5,924.4 578.0,924.4 578.5,924.4 579.0,924.4 579.5,924.4 580.0,924.4 580.5,924.4 581.0,924.4 581.5,924.4 582.0,924.4 582.5,924.4 583.0,924.4 583.5,924.4 584.0,924.4 584.5,924.4 585.0,924.4 585.5,924.4 586.0,924.4 586.5,924.4 587.0,924.5 587.5,924.5 588.0,924.5 588.5,924.5 589.0,924.5 589.5,924.5 590.0,924.5 590.5,924.5 591.0,924.5 591.5,924.5 592.0,924.5 592.5,924.5 593.0,924.5 593.5,924.5 594.0,924.5 594.5,924.5 595.0,924.5 595.5,924.5 596.0,924.5 596.5,924.5 597.0,924.5 597.5,924.5 598.0,924.5 598.5,924.5 599.0,924.5 599.5,924.5 600.0,924.6 600.5,924.6 601.0,924.6 601.5,924.6 602.0,924.6 602.5,924.6 603.0,924.6 603.5,924.6 604.0,924.6 604.5,924.6 605.0,924.6 605.5,924.6 606.0,924.6 606.5,924.6 607.0,924.6 607.5,924.6 608.0,924.6 608.5,924.6 609.0,924.6 609.5,924.6 610.0,924.6 610.5,924.6 611.0,924.6 611.5,924.6 612.0,924.6 612.5,924.6 613.0,924.6 613.5,924.6 614.0,924.6 614.5,924.6 615.0,924.7 615.5,924.7 616.0,924.7 616.5,924.7 617.0,924.7 617.5,924.7 618.0,924.7 618.5,924.7 619.0,924.7 619.5,924.7 620.0,924.7 620.5,924.7 621.0,924.7 621.5,924.7 622.0,924.7 622.5,924.7 623.0,924.7 623.5,924.7 624.0,924.7 624.5,924.7 625.0,924.7 625.5,924.7 626.0,924.7 626.5,924.7 627.0,924.7 627.5,924.7 628.0,924.7 628.5,924.7 629.0,924.7 629.5,924.7 630.0,924.7 630.5,924.7 631.0,924.7 631.5,924.7 632.0,924.8 632.5,924.8 633.0,924.8 633.5,924.8 634.0,924.8 634.5,924.8 635.0,924.8 635.5,924.8 636.0,924.8 636.5,924.8 637.0,924.8 637.5,924.8 638.0,924.8 638.5,924.8 639.0,924.8 639.5,924.8 640.0,924.8 640.5,924.8 641.0,924.8 641.5,924.8 642.0,924.8 642.5,924.8 643.0,924.8 643.5,924.8 644.0,924.8 644.5,924.8 645.0,924.8" fill="none" stroke="#ff0000" stroke-width="2" stroke-linejoin="round"/>
<rect x="111.9" y="560" width="572.1" height="383.79999999999995" fill="none" stroke="#000" stroke-width="2"/>
<line x1="102.3" y1="560.0" x2="111.9" y2="560.0" stroke="#000" stroke-width="2"/>
<line x1="102.3" y1="621.1" x2="111.9" y2="621.1" stroke="#000" stroke-width="2"/>
<line x1="102.3" y1="682.2" x2="111.9" y2="682.2" stroke="#000" stroke-width="2"/>
<line x1="102.3" y1="743.3" x2="111.9" y2="743.3" stroke="#000" stroke-width="2"/>
<line x1="102.3" y1="804.4" x2="111.9" y2="804.4" stroke="#000" stroke-width="2"/>
<line x1="102.3" y1="865.5" x2="111.9" y2="865.5" stroke="#000" stroke-width="2"/>
<line x1="102.3" y1="926.6" x2="111.9" y2="926.6" stroke="#000" stroke-width="2"/>
<line x1="108.2" y1="590.5" x2="111.9" y2="590.5" stroke="#000" stroke-width="2"/>
<line x1="108.2" y1="651.6" x2="111.9" y2="651.6" stroke="#000" stroke-width="2"/>
<line x1="108.2" y1="712.8" x2="111.9" y2="712.8" stroke="#000" stroke-width="2"/>
<line x1="108.2" y1="773.9" x2="111.9" y2="773.9" stroke="#000" stroke-width="2"/>
<line x1="108.2" y1="835.0" x2="111.9" y2="835.0" stroke="#000" stroke-width="2"/>
<line x1="108.2" y1="896.0" x2="111.9" y2="896.0" stroke="#000" stroke-width="2"/>
<line x1="111.9" y1="943.8" x2="111.9" y2="951.6" stroke="#000" stroke-width="2"/>
<line x1="187.6" y1="943.8" x2="187.6" y2="951.6" stroke="#000" stroke-width="2"/>
<line x1="263.6" y1="943.8" x2="263.6" y2="951.6" stroke="#000" stroke-width="2"/>
<line x1="340.0" y1="943.8" x2="340.0" y2="951.6" stroke="#000" stroke-width="2"/>
<line x1="416.6" y1="943.8" x2="416.6" y2="951.6" stroke="#000" stroke-width="2"/>
<line x1="492.3" y1="943.8" x2="492.3" y2="951.6" stroke="#000" stroke-width="2"/>
<line x1="568.5" y1="943.8" x2="568.5" y2="951.6" stroke="#000" stroke-width="2"/>
<line x1="645.4" y1="943.8" x2="645.4" y2="951.6" stroke="#000" stroke-width="2"/>
<line x1="149.8" y1="943.8" x2="149.8" y2="947.0" stroke="#000" stroke-width="2"/>
<line x1="225.6" y1="943.8" x2="225.6" y2="947.0" stroke="#000" stroke-width="2"/>
<line x1="301.8" y1="943.8" x2="301.8" y2="947.0" stroke="#000" stroke-width="2"/>
<line x1="378.3" y1="943.8" x2="378.3" y2="947.0" stroke="#000" stroke-width="2"/>
<line x1="454.5" y1="943.8" x2="454.5" y2="947.0" stroke="#000" stroke-width="2"/>
<line x1="530.4" y1="943.8" x2="530.4" y2="947.0" stroke="#000" stroke-width="2"/>
<line x1="607.0" y1="943.8" x2="607.0" y2="947.0" stroke="#000" stroke-width="2"/>
<text transform="scale(1.22,1)" y="566.3" font-family='"Liberation Serif", serif' font-weight="bold" fill="#555"><tspan x="20.10" y="566.30" font-size="16.0">3</tspan><tspan x="29.36" y="566.30" font-size="16.0">.</tspan><tspan x="36.49" y="566.30" font-size="16.0">0</tspan><tspan x="45.71" y="568.09" font-size="20.8">×</tspan><tspan x="59.38" y="566.30" font-size="16.0">1</tspan><tspan x="66.57" y="566.30" font-size="16.0">0</tspan></text>
<text x="90.3" y="559.5" font-family='"Liberation Serif", serif' font-size="10" font-weight="bold" fill="#999">8</text>
<text transform="scale(1.22,1)" y="627.4" font-family='"Liberation Serif", serif' font-weight="bold" fill="#555"><tspan x="20.10" y="627.40" font-size="16.0">2</tspan><tspan x="29.36" y="627.40" font-size="16.0">.</tspan><tspan x="36.49" y="627.40" font-size="16.0">5</tspan><tspan x="45.71" y="629.19" font-size="20.8">×</tspan><tspan x="59.38" y="627.40" font-size="16.0">1</tspan><tspan x="66.57" y="627.40" font-size="16.0">0</tspan></text>
<text x="90.3" y="620.6" font-family='"Liberation Serif", serif' font-size="10" font-weight="bold" fill="#999">8</text>
<text transform="scale(1.22,1)" y="688.5" font-family='"Liberation Serif", serif' font-weight="bold" fill="#555"><tspan x="20.10" y="688.50" font-size="16.0">2</tspan><tspan x="29.36" y="688.50" font-size="16.0">.</tspan><tspan x="36.49" y="688.50" font-size="16.0">0</tspan><tspan x="45.71" y="690.29" font-size="20.8">×</tspan><tspan x="59.38" y="688.50" font-size="16.0">1</tspan><tspan x="66.57" y="688.50" font-size="16.0">0</tspan></text>
<text x="90.3" y="681.7" font-family='"Liberation Serif", serif' font-size="10" font-weight="bold" fill="#999">8</text>
<text transform="scale(1.22,1)" y="749.6" font-family='"Liberation Serif", serif' font-weight="bold" fill="#555"><tspan x="20.44" y="749.60" font-size="16.0">1</tspan><tspan x="29.36" y="749.60" font-size="16.0">.</tspan><tspan x="36.49" y="749.60" font-size="16.0">5</tspan><tspan x="45.71" y="751.39" font-size="20.8">×</tspan><tspan x="59.38" y="749.60" font-size="16.0">1</tspan><tspan x="66.57" y="749.60" font-size="16.0">0</tspan></text>
<text x="90.3" y="742.8" font-family='"Liberation Serif", serif' font-size="10" font-weight="bold" fill="#999">8</text>
<text transform="scale(1.22,1)" y="810.7" font-family='"Liberation Serif", serif' font-weight="bold" fill="#555"><tspan x="20.44" y="810.70" font-size="16.0">1</tspan><tspan x="29.36" y="810.70" font-size="16.0">.</tspan><tspan x="36.49" y="810.70" font-size="16.0">0</tspan><tspan x="45.71" y="812.49" font-size="20.8">×</tspan><tspan x="59.38" y="810.70" font-size="16.0">1</tspan><tspan x="66.57" y="810.70" font-size="16.0">0</tspan></text>
<text x="90.3" y="803.9" font-family='"Liberation Serif", serif' font-size="10" font-weight="bold" fill="#999">8</text>
<text transform="scale(1.22,1)" y="871.8" font-family='"Liberation Serif", serif' font-weight="bold" fill="#555"><tspan x="20.10" y="871.80" font-size="16.0">5</tspan><tspan x="29.36" y="871.80" font-size="16.0">.</tspan><tspan x="36.49" y="871.80" font-size="16.0">0</tspan><tspan x="45.71" y="873.59" font-size="20.8">×</tspan><tspan x="59.38" y="871.80" font-size="16.0">1</tspan><tspan x="66.57" y="871.80" font-size="16.0">0</tspan></text>
<text x="90.3" y="865.0" font-family='"Liberation Serif", serif' font-size="10" font-weight="bold" fill="#999">7</text>
<text transform="scale(1.22,1)" y="932.9" font-family='"Liberation Serif", serif' font-weight="bold" fill="#555"><tspan x="55.26" y="932.90" font-size="16.0">0</tspan><tspan x="64.11" y="932.90" font-size="16.0">.</tspan><tspan x="71.33" y="932.90" font-size="16.0">0</tspan></text>
<text x="111.9" y="968.6" font-family='"Liberation Serif", serif' font-size="15.5" font-weight="bold" text-anchor="middle" fill="#555" textLength="9.8" lengthAdjust="spacingAndGlyphs" >0</text>
<text x="188.4" y="968.6" font-family='"Liberation Serif", serif' font-size="15.5" font-weight="bold" text-anchor="middle" fill="#555" textLength="29.4" lengthAdjust="spacingAndGlyphs" >100</text>
<text x="263.6" y="968.6" font-family='"Liberation Serif", serif' font-size="15.5" font-weight="bold" text-anchor="middle" fill="#555" textLength="29.4" lengthAdjust="spacingAndGlyphs" >200</text>
<text x="340.0" y="968.6" font-family='"Liberation Serif", serif' font-size="15.5" font-weight="bold" text-anchor="middle" fill="#555" textLength="29.4" lengthAdjust="spacingAndGlyphs" >300</text>
<text x="416.6" y="968.6" font-family='"Liberation Serif", serif' font-size="15.5" font-weight="bold" text-anchor="middle" fill="#555" textLength="29.4" lengthAdjust="spacingAndGlyphs" >400</text>
<text x="492.3" y="968.6" font-family='"Liberation Serif", serif' font-size="15.5" font-weight="bold" text-anchor="middle" fill="#555" textLength="29.4" lengthAdjust="spacingAndGlyphs" >500</text>
<text x="568.5" y="968.6" font-family='"Liberation Serif", serif' font-size="15.5" font-weight="bold" text-anchor="middle" fill="#555" textLength="29.4" lengthAdjust="spacingAndGlyphs" >600</text>
<text x="645.4" y="968.6" font-family='"Liberation Serif", serif' font-size="15.5" font-weight="bold" text-anchor="middle" fill="#555" textLength="29.4" lengthAdjust="spacingAndGlyphs" >700</text>
<text x="347.0" y="986.8" font-family='"Liberation Serif", serif' font-size="20" font-weight="bold" text-anchor="start" fill="#111" textLength="92.0" lengthAdjust="spacingAndGlyphs" >Temp(°C)</text>
<text transform="translate(17.2,815.1) rotate(-90)" font-family='"Liberation Serif", serif' font-size="20.5" font-weight="bold" fill="#111" textLength="128.6" lengthAdjust="spacingAndGlyphs">Resistivity(Ω·m)</text>
<text x="311.0" y="1027.8" font-family='"Liberation Serif", serif' font-size="24" font-weight="normal" text-anchor="start" fill="#333" textLength="60.4" lengthAdjust="spacingAndGlyphs" xml:space="preserve">(2) R2</text>
<rect x="464" y="566.5" width="202.79999999999995" height="48.700000000000045" fill="#000"/>
<rect x="462" y="564.5" width="202.79999999999995" height="48.700000000000045" fill="#fff" stroke="#000" stroke-width="1.8"/>
<rect x="483.8" y="573.4" width="11.4" height="9.200000000000001" rx="3.1" fill="#0000ff"/>
<line x1="465.2" y1="600.3" x2="511.8" y2="600.3" stroke="#ff0000" stroke-width="2"/>
<text x="512.2" y="581.9" font-family='"Liberation Serif", serif' font-size="18" font-weight="bold" text-anchor="start" fill="#111" textLength="145.0" lengthAdjust="spacingAndGlyphs" >Resistivity(Ω·m)</text>
<text x="516.1" y="605.6" font-family='"Liberation Serif", serif' font-size="18" font-weight="bold" text-anchor="start" fill="#111" textLength="95.6" lengthAdjust="spacingAndGlyphs" >Fit a curve</text>
<line x1="326.5" y1="617.5" x2="681.0" y2="617.5" stroke="#000" stroke-width="2"/>
<line x1="326.5" y1="636.3" x2="681.0" y2="636.3" stroke="#000" stroke-width="2"/>
<line x1="326.5" y1="670.5" x2="681.0" y2="670.5" stroke="#000" stroke-width="2"/>
<line x1="326.5" y1="687.8" x2="681.0" y2="687.8" stroke="#000" stroke-width="2"/>
<line x1="326.5" y1="722.0" x2="681.0" y2="722.0" stroke="#000" stroke-width="2"/>
<line x1="326.5" y1="741.0" x2="681.0" y2="741.0" stroke="#000" stroke-width="2"/>
<line x1="326.5" y1="760.0" x2="681.0" y2="760.0" stroke="#000" stroke-width="2"/>
<line x1="326.5" y1="777.3" x2="681.0" y2="777.3" stroke="#000" stroke-width="2"/>
<line x1="326.5" y1="796.5" x2="681.0" y2="796.5" stroke="#000" stroke-width="2"/>
<line x1="326.5" y1="813.2" x2="681.0" y2="813.2" stroke="#000" stroke-width="2"/>
<line x1="326.5" y1="832.4" x2="681.0" y2="832.4" stroke="#000" stroke-width="2"/>
<line x1="326.5" y1="849.6" x2="681.0" y2="849.6" stroke="#000" stroke-width="2"/>
<line x1="327.5" y1="616.5" x2="327.5" y2="850.6" stroke="#000" stroke-width="2"/>
<line x1="455.0" y1="617.5" x2="455.0" y2="849.6" stroke="#000" stroke-width="2"/>
<line x1="680.0" y1="616.5" x2="680.0" y2="850.6" stroke="#000" stroke-width="2"/>
<text x="330.7" y="629.4" font-family='"Liberation Mono", monospace' font-size="13" font-weight="normal" text-anchor="start" fill="#8a8a8a" textLength="39.2" lengthAdjust="spacingAndGlyphs" xml:space="preserve">Model</text>
<text x="330.7" y="655.9" font-family='"Liberation Mono", monospace' font-size="13" font-weight="normal" text-anchor="start" fill="#8a8a8a" textLength="63.7" lengthAdjust="spacingAndGlyphs" xml:space="preserve">Equation</text>
<text x="330.7" y="681.6" font-family='"Liberation Mono", monospace' font-size="13" font-weight="normal" text-anchor="start" fill="#8a8a8a" textLength="31.1" lengthAdjust="spacingAndGlyphs" xml:space="preserve">Plot</text>
<text x="330.7" y="707.4" font-family='"Liberation Mono", monospace' font-size="13" font-weight="normal" text-anchor="start" fill="#8a8a8a" textLength="14.8" lengthAdjust="spacingAndGlyphs" xml:space="preserve">y0</text>
<text x="330.7" y="734.0" font-family='"Liberation Mono", monospace' font-size="13" font-weight="normal" text-anchor="start" fill="#8a8a8a" textLength="14.8" lengthAdjust="spacingAndGlyphs" xml:space="preserve">xc</text>
<text x="330.7" y="753.0" font-family='"Liberation Mono", monospace' font-size="13" font-weight="normal" text-anchor="start" fill="#8a8a8a" textLength="6.7" lengthAdjust="spacingAndGlyphs" xml:space="preserve">A</text>
<text x="330.7" y="771.1" font-family='"Liberation Mono", monospace' font-size="13" font-weight="normal" text-anchor="start" fill="#8a8a8a" textLength="14.8" lengthAdjust="spacingAndGlyphs" xml:space="preserve">wG</text>
<text x="330.7" y="789.4" font-family='"Liberation Mono", monospace' font-size="13" font-weight="normal" text-anchor="start" fill="#8a8a8a" textLength="14.8" lengthAdjust="spacingAndGlyphs" xml:space="preserve">wL</text>
<text x="330.7" y="807.4" font-family='"Liberation Mono", monospace' font-size="13" font-weight="normal" text-anchor="start" fill="#8a8a8a" textLength="120.8" lengthAdjust="spacingAndGlyphs" xml:space="preserve">Reduced Chi-Sqr</text>
<text x="330.7" y="825.3" font-family='"Liberation Mono", monospace' font-size="13" font-weight="normal" text-anchor="start" fill="#8a8a8a" textLength="112.6" lengthAdjust="spacingAndGlyphs" xml:space="preserve">R-Square (COD)</text>
<text x="330.7" y="843.5" font-family='"Liberation Mono", monospace' font-size="13" font-weight="normal" text-anchor="start" fill="#8a8a8a" textLength="104.5" lengthAdjust="spacingAndGlyphs" xml:space="preserve">Adj. R-Square</text>
<text x="567.5" y="627.4" font-family='"Liberation Mono", monospace' font-size="13" font-weight="normal" text-anchor="middle" fill="#8a8a8a" textLength="39.2" lengthAdjust="spacingAndGlyphs" xml:space="preserve">Voigt</text>
<text x="567.5" y="646.0" font-family='"Liberation Mono", monospace' font-size="13" font-weight="normal" text-anchor="middle" fill="#8a8a8a" textLength="218.6" lengthAdjust="spacingAndGlyphs" xml:space="preserve">y = nlf_voigt(x,y0,xc,A,wG,</text>
<text x="567.5" y="660.0" font-family='"Liberation Mono", monospace' font-size="13" font-weight="normal" text-anchor="middle" fill="#8a8a8a" textLength="31.1" lengthAdjust="spacingAndGlyphs" xml:space="preserve">wL);</text>
<text x="567.5" y="679.6" font-family='"Liberation Mono", monospace' font-size="13" font-weight="normal" text-anchor="middle" fill="#8a8a8a" textLength="6.7" lengthAdjust="spacingAndGlyphs" xml:space="preserve">B</text>
<text x="567.5" y="698.0" font-family='"Liberation Mono", monospace' font-size="13" font-weight="normal" text-anchor="middle" fill="#8a8a8a" textLength="218.6" lengthAdjust="spacingAndGlyphs" xml:space="preserve">-461591.92228 ± 4192753.80</text>
<text x="567.5" y="714.0" font-family='"Liberation Mono", monospace' font-size="13" font-weight="normal" text-anchor="middle" fill="#8a8a8a" textLength="23.0" lengthAdjust="spacingAndGlyphs" xml:space="preserve">315</text>
<text x="567.5" y="732.0" font-family='"Liberation Mono", monospace' font-size="13" font-weight="normal" text-anchor="middle" fill="#8a8a8a" textLength="161.5" lengthAdjust="spacingAndGlyphs" xml:space="preserve">150.20277 ± 1.84149</text>
<text x="567.5" y="751.0" font-family='"Liberation Mono", monospace' font-size="13" font-weight="normal" text-anchor="middle" fill="#8a8a8a" textLength="186.0" lengthAdjust="spacingAndGlyphs" xml:space="preserve">3.11398E10 ± 3.35694E9</text>
<text x="567.5" y="769.1" font-family='"Liberation Mono", monospace' font-size="13" font-weight="normal" text-anchor="middle" fill="#8a8a8a" textLength="161.5" lengthAdjust="spacingAndGlyphs" xml:space="preserve">53.19257 ± 21.27689</text>
<text x="567.5" y="787.4" font-family='"Liberation Mono", monospace' font-size="13" font-weight="normal" text-anchor="middle" fill="#8a8a8a" textLength="161.5" lengthAdjust="spacingAndGlyphs" xml:space="preserve">60.40285 ± 21.56394</text>
<text x="567.5" y="805.4" font-family='"Liberation Mono", monospace' font-size="13" font-weight="normal" text-anchor="middle" fill="#8a8a8a" textLength="80.0" lengthAdjust="spacingAndGlyphs" xml:space="preserve">4.25788E14</text>
<text x="567.5" y="823.3" font-family='"Liberation Mono", monospace' font-size="13" font-weight="normal" text-anchor="middle" fill="#8a8a8a" textLength="55.6" lengthAdjust="spacingAndGlyphs" xml:space="preserve">0.92862</text>
<text x="567.5" y="841.5" font-family='"Liberation Mono", monospace' font-size="13" font-weight="normal" text-anchor="middle" fill="#8a8a8a" textLength="55.6" lengthAdjust="spacingAndGlyphs" xml:space="preserve">0.92442</text>
<rect x="133.6" y="1380.0" width="9.0" height="8.5" rx="2.8" fill="#0000ff"/>
<rect x="137.3" y="1377.8" width="9.0" height="8.5" rx="2.8" fill="#0000ff"/>
<rect x="140.5" y="1376.7" width="9.0" height="8.5" rx="2.8" fill="#0000ff"/>
<rect x="143.1" y="1376.0" width="9.0" height="8.5" rx="2.8" fill="#0000ff"/>
<rect x="150.1" y="1361.0" width="9.0" height="8.5" rx="2.8" fill="#0000ff"/>
<rect x="158.0" y="1326.1" width="9.0" height="8.5" rx="2.8" fill="#0000ff"/>
<rect x="164.6" y="1256.4" width="9.0" height="8.5" rx="2.8" fill="#0000ff"/>
<rect x="173.3" y="1162.1" width="9.0" height="8.5" rx="2.8" fill="#0000ff"/>
<rect x="180.4" y="1082.0" width="9.0" height="8.5" rx="2.8" fill="#0000ff"/>
<rect x="186.4" y="1076.7" width="9.0" height="8.5" rx="2.8" fill="#0000ff"/>
<rect x="188.3" y="1089.9" width="9.0" height="8.5" rx="2.8" fill="#0000ff"/>
<rect x="195.6" y="1149.5" width="9.0" height="8.5" rx="2.8" fill="#0000ff"/>
<rect x="203.2" y="1211.2" width="9.0" height="8.5" rx="2.8" fill="#0000ff"/>
<rect x="211.9" y="1258.3" width="9.0" height="8.5" rx="2.8" fill="#0000ff"/>
<rect x="218.0" y="1290.6" width="9.0" height="8.5" rx="2.8" fill="#0000ff"/>
<rect x="226.4" y="1312.9" width="9.0" height="8.5" rx="2.8" fill="#0000ff"/>
<rect x="233.7" y="1328.7" width="9.0" height="8.5" rx="2.8" fill="#0000ff"/>
<rect x="240.8" y="1337.9" width="9.0" height="8.5" rx="2.8" fill="#0000ff"/>
<rect x="248.7" y="1343.9" width="9.0" height="8.5" rx="2.8" fill="#0000ff"/>
<rect x="253.0" y="1342.2" width="9.0" height="8.5" rx="2.8" fill="#0000ff"/>
<rect x="257.4" y="1341.3" width="9.0" height="8.5" rx="2.8" fill="#0000ff"/>
<rect x="261.0" y="1343.7" width="9.0" height="8.5" rx="2.8" fill="#0000ff"/>
<rect x="264.5" y="1345.7" width="9.0" height="8.5" rx="2.8" fill="#0000ff"/>
<rect x="268.5" y="1346.7" width="9.0" height="8.5" rx="2.8" fill="#0000ff"/>
<rect x="272.3" y="1348.4" width="9.0" height="8.5" rx="2.8" fill="#0000ff"/>
<rect x="276.2" y="1350.7" width="9.0" height="8.5" rx="2.8" fill="#0000ff"/>
<rect x="280.2" y="1353.6" width="9.0" height="8.5" rx="2.8" fill="#0000ff"/>
<rect x="284.9" y="1357.7" width="9.0" height="8.5" rx="2.8" fill="#0000ff"/>
<rect x="289.6" y="1361.7" width="9.0" height="8.5" rx="2.8" fill="#0000ff"/>
<rect x="293.2" y="1364.6" width="9.0" height="8.5" rx="2.8" fill="#0000ff"/>
<rect x="296.9" y="1367.5" width="9.0" height="8.5" rx="2.8" fill="#0000ff"/>
<rect x="300.5" y="1370.4" width="9.0" height="8.5" rx="2.8" fill="#0000ff"/>
<rect x="304.2" y="1373.0" width="9.0" height="8.5" rx="2.8" fill="#0000ff"/>
<rect x="307.8" y="1375.6" width="9.0" height="8.5" rx="2.8" fill="#0000ff"/>
<rect x="311.5" y="1378.1" width="9.0" height="8.5" rx="2.8" fill="#0000ff"/>
<rect x="315.9" y="1380.3" width="9.0" height="8.5" rx="2.8" fill="#0000ff"/>
<rect x="320.2" y="1382.5" width="9.0" height="8.5" rx="2.8" fill="#0000ff"/>
<rect x="324.6" y="1384.7" width="9.0" height="8.5" rx="2.8" fill="#0000ff"/>
<rect x="328.1" y="1385.4" width="9.0" height="8.5" rx="2.8" fill="#0000ff"/>
<rect x="331.6" y="1386.0" width="9.0" height="8.5" rx="2.8" fill="#0000ff"/>
<rect x="335.1" y="1386.7" width="9.0" height="8.5" rx="2.8" fill="#0000ff"/>
<rect x="338.6" y="1387.4" width="9.0" height="8.5" rx="2.8" fill="#0000ff"/>
<rect x="342.1" y="1388.0" width="9.0" height="8.5" rx="2.8" fill="#0000ff"/>
<rect x="345.8" y="1388.2" width="9.0" height="8.5" rx="2.8" fill="#0000ff"/>
<rect x="349.4" y="1388.4" width="9.0" height="8.5" rx="2.8" fill="#0000ff"/>
<rect x="353.1" y="1388.6" width="9.0" height="8.5" rx="2.8" fill="#0000ff"/>
<rect x="356.7" y="1388.8" width="9.0" height="8.5" rx="2.8" fill="#0000ff"/>
<rect x="360.4" y="1388.9" width="9.0" height="8.5" rx="2.8" fill="#0000ff"/>
<rect x="364.0" y="1389.1" width="9.0" height="8.5" rx="2.8" fill="#0000ff"/>
<rect x="367.8" y="1389.1" width="9.0" height="8.5" rx="2.8" fill="#0000ff"/>
<rect x="371.5" y="1389.1" width="9.0" height="8.5" rx="2.8" fill="#0000ff"/>
<rect x="375.3" y="1389.1" width="9.0" height="8.5" rx="2.8" fill="#0000ff"/>
<rect x="379.0" y="1389.1" width="9.0" height="8.5" rx="2.8" fill="#0000ff"/>
<rect x="382.8" y="1389.1" width="9.0" height="8.5" rx="2.8" fill="#0000ff"/>
<rect x="386.5" y="1389.1" width="9.0" height="8.5" rx="2.8" fill="#0000ff"/>
<rect x="390.3" y="1389.1" width="9.0" height="8.5" rx="2.8" fill="#0000ff"/>
<rect x="394.1" y="1389.1" width="9.0" height="8.5" rx="2.8" fill="#0000ff"/>
<rect x="397.8" y="1389.1" width="9.0" height="8.5" rx="2.8" fill="#0000ff"/>
<rect x="401.6" y="1389.1" width="9.0" height="8.5" rx="2.8" fill="#0000ff"/>
<rect x="405.3" y="1389.1" width="9.0" height="8.5" rx="2.8" fill="#0000ff"/>
<rect x="409.1" y="1389.1" width="9.0" height="8.5" rx="2.8" fill="#0000ff"/>
<rect x="412.8" y="1389.1" width="9.0" height="8.5" rx="2.8" fill="#0000ff"/>
<rect x="416.6" y="1389.1" width="9.0" height="8.5" rx="2.8" fill="#0000ff"/>
<rect x="420.4" y="1389.1" width="9.0" height="8.5" rx="2.8" fill="#0000ff"/>
<rect x="424.1" y="1389.1" width="9.0" height="8.5" rx="2.8" fill="#0000ff"/>
<rect x="427.9" y="1389.1" width="9.0" height="8.5" rx="2.8" fill="#0000ff"/>
<rect x="431.6" y="1389.1" width="9.0" height="8.5" rx="2.8" fill="#0000ff"/>
<rect x="435.4" y="1389.1" width="9.0" height="8.5" rx="2.8" fill="#0000ff"/>
<rect x="439.1" y="1389.1" width="9.0" height="8.5" rx="2.8" fill="#0000ff"/>
<rect x="442.9" y="1389.1" width="9.0" height="8.5" rx="2.8" fill="#0000ff"/>
<rect x="446.7" y="1389.1" width="9.0" height="8.5" rx="2.8" fill="#0000ff"/>
<rect x="450.4" y="1389.1" width="9.0" height="8.5" rx="2.8" fill="#0000ff"/>
<rect x="454.2" y="1389.1" width="9.0" height="8.5" rx="2.8" fill="#0000ff"/>
<rect x="457.9" y="1389.1" width="9.0" height="8.5" rx="2.8" fill="#0000ff"/>
<rect x="461.7" y="1389.1" width="9.0" height="8.5" rx="2.8" fill="#0000ff"/>
<rect x="465.4" y="1389.1" width="9.0" height="8.5" rx="2.8" fill="#0000ff"/>
<rect x="469.2" y="1389.1" width="9.0" height="8.5" rx="2.8" fill="#0000ff"/>
<rect x="473.0" y="1389.1" width="9.0" height="8.5" rx="2.8" fill="#0000ff"/>
<rect x="476.7" y="1389.1" width="9.0" height="8.5" rx="2.8" fill="#0000ff"/>
<rect x="480.5" y="1389.1" width="9.0" height="8.5" rx="2.8" fill="#0000ff"/>
<rect x="484.2" y="1389.1" width="9.0" height="8.5" rx="2.8" fill="#0000ff"/>
<rect x="488.0" y="1389.1" width="9.0" height="8.5" rx="2.8" fill="#0000ff"/>
<rect x="491.7" y="1389.1" width="9.0" height="8.5" rx="2.8" fill="#0000ff"/>
<rect x="495.5" y="1389.1" width="9.0" height="8.5" rx="2.8" fill="#0000ff"/>
<rect x="499.3" y="1389.1" width="9.0" height="8.5" rx="2.8" fill="#0000ff"/>
<rect x="503.2" y="1389.1" width="9.0" height="8.5" rx="2.8" fill="#0000ff"/>
<rect x="507.0" y="1389.1" width="9.0" height="8.5" rx="2.8" fill="#0000ff"/>
<rect x="510.8" y="1389.1" width="9.0" height="8.5" rx="2.8" fill="#0000ff"/>
<rect x="514.7" y="1389.1" width="9.0" height="8.5" rx="2.8" fill="#0000ff"/>
<rect x="518.5" y="1389.1" width="9.0" height="8.5" rx="2.8" fill="#0000ff"/>
<rect x="522.4" y="1389.1" width="9.0" height="8.5" rx="2.8" fill="#0000ff"/>
<rect x="526.2" y="1389.1" width="9.0" height="8.5" rx="2.8" fill="#0000ff"/>
<rect x="530.0" y="1389.1" width="9.0" height="8.5" rx="2.8" fill="#0000ff"/>
<rect x="533.9" y="1389.1" width="9.0" height="8.5" rx="2.8" fill="#0000ff"/>
<rect x="537.7" y="1389.1" width="9.0" height="8.5" rx="2.8" fill="#0000ff"/>
<rect x="541.5" y="1389.1" width="9.0" height="8.5" rx="2.8" fill="#0000ff"/>
<rect x="545.4" y="1389.1" width="9.0" height="8.5" rx="2.8" fill="#0000ff"/>
<rect x="549.2" y="1389.1" width="9.0" height="8.5" rx="2.8" fill="#0000ff"/>
<rect x="553.0" y="1389.1" width="9.0" height="8.5" rx="2.8" fill="#0000ff"/>
<rect x="556.9" y="1389.1" width="9.0" height="8.5" rx="2.8" fill="#0000ff"/>
<rect x="560.7" y="1389.1" width="9.0" height="8.5" rx="2.8" fill="#0000ff"/>
<rect x="564.5" y="1389.1" width="9.0" height="8.5" rx="2.8" fill="#0000ff"/>
<rect x="568.4" y="1389.1" width="9.0" height="8.5" rx="2.8" fill="#0000ff"/>
<rect x="572.2" y="1389.1" width="9.0" height="8.5" rx="2.8" fill="#0000ff"/>
<rect x="576.1" y="1389.1" width="9.0" height="8.5" rx="2.8" fill="#0000ff"/>
<rect x="579.9" y="1389.1" width="9.0" height="8.5" rx="2.8" fill="#0000ff"/>
<rect x="583.7" y="1389.1" width="9.0" height="8.5" rx="2.8" fill="#0000ff"/>
<rect x="587.6" y="1389.1" width="9.0" height="8.5" rx="2.8" fill="#0000ff"/>
<rect x="591.4" y="1389.1" width="9.0" height="8.5" rx="2.8" fill="#0000ff"/>
<rect x="595.2" y="1389.1" width="9.0" height="8.5" rx="2.8" fill="#0000ff"/>
<rect x="599.1" y="1389.1" width="9.0" height="8.5" rx="2.8" fill="#0000ff"/>
<rect x="602.9" y="1389.1" width="9.0" height="8.5" rx="2.8" fill="#0000ff"/>
<rect x="606.7" y="1389.1" width="9.0" height="8.5" rx="2.8" fill="#0000ff"/>
<rect x="610.6" y="1389.1" width="9.0" height="8.5" rx="2.8" fill="#0000ff"/>
<rect x="614.4" y="1389.1" width="9.0" height="8.5" rx="2.8" fill="#0000ff"/>
<rect x="618.2" y="1389.1" width="9.0" height="8.5" rx="2.8" fill="#0000ff"/>
<rect x="622.1" y="1389.1" width="9.0" height="8.5" rx="2.8" fill="#0000ff"/>
<rect x="625.9" y="1389.1" width="9.0" height="8.5" rx="2.8" fill="#0000ff"/>
<rect x="629.8" y="1389.1" width="9.0" height="8.5" rx="2.8" fill="#0000ff"/>
<rect x="633.6" y="1389.1" width="9.0" height="8.5" rx="2.8" fill="#0000ff"/>
<rect x="637.4" y="1389.1" width="9.0" height="8.5" rx="2.8" fill="#0000ff"/>
<rect x="641.3" y="1389.1" width="9.0" height="8.5" rx="2.8" fill="#0000ff"/>
<rect x="645.1" y="1389.1" width="9.0" height="8.5" rx="2.8" fill="#0000ff"/>
<rect x="136.3" y="1382.7" width="2.6" height="2" fill="#8c8cff"/>
<rect x="140.0" y="1380.5" width="2.6" height="2" fill="#8c8cff"/>
<rect x="143.2" y="1379.4" width="2.6" height="2" fill="#8c8cff"/>
<rect x="145.8" y="1378.7" width="2.6" height="2" fill="#8c8cff"/>
<rect x="152.8" y="1363.7" width="2.6" height="2" fill="#8c8cff"/>
<rect x="160.7" y="1328.8" width="2.6" height="2" fill="#8c8cff"/>
<rect x="167.3" y="1259.1" width="2.6" height="2" fill="#8c8cff"/>
<rect x="176.0" y="1164.8" width="2.6" height="2" fill="#8c8cff"/>
<rect x="183.1" y="1084.7" width="2.6" height="2" fill="#8c8cff"/>
<rect x="189.1" y="1079.4" width="2.6" height="2" fill="#8c8cff"/>
<rect x="191.0" y="1092.6" width="2.6" height="2" fill="#8c8cff"/>
<rect x="198.3" y="1152.2" width="2.6" height="2" fill="#8c8cff"/>
<rect x="205.9" y="1213.9" width="2.6" height="2" fill="#8c8cff"/>
<rect x="214.6" y="1261.0" width="2.6" height="2" fill="#8c8cff"/>
<rect x="220.7" y="1293.3" width="2.6" height="2" fill="#8c8cff"/>
<rect x="229.1" y="1315.6" width="2.6" height="2" fill="#8c8cff"/>
<rect x="236.4" y="1331.4" width="2.6" height="2" fill="#8c8cff"/>
<rect x="243.5" y="1340.6" width="2.6" height="2" fill="#8c8cff"/>
<rect x="251.4" y="1346.6" width="2.6" height="2" fill="#8c8cff"/>
<rect x="255.7" y="1344.9" width="2.6" height="2" fill="#8c8cff"/>
<rect x="260.1" y="1344.0" width="2.6" height="2" fill="#8c8cff"/>
<rect x="263.7" y="1346.4" width="2.6" height="2" fill="#8c8cff"/>
<rect x="267.2" y="1348.4" width="2.6" height="2" fill="#8c8cff"/>
<rect x="271.2" y="1349.4" width="2.6" height="2" fill="#8c8cff"/>
<rect x="275.0" y="1351.1" width="2.6" height="2" fill="#8c8cff"/>
<rect x="278.9" y="1353.4" width="2.6" height="2" fill="#8c8cff"/>
<rect x="282.9" y="1356.3" width="2.6" height="2" fill="#8c8cff"/>
<rect x="287.6" y="1360.4" width="2.6" height="2" fill="#8c8cff"/>
<rect x="292.3" y="1364.4" width="2.6" height="2" fill="#8c8cff"/>
<rect x="295.9" y="1367.3" width="2.6" height="2" fill="#8c8cff"/>
<rect x="299.6" y="1370.2" width="2.6" height="2" fill="#8c8cff"/>
<rect x="303.2" y="1373.1" width="2.6" height="2" fill="#8c8cff"/>
<rect x="306.9" y="1375.7" width="2.6" height="2" fill="#8c8cff"/>
<rect x="310.5" y="1378.2" width="2.6" height="2" fill="#8c8cff"/>
<rect x="314.2" y="1380.8" width="2.6" height="2" fill="#8c8cff"/>
<rect x="318.6" y="1383.0" width="2.6" height="2" fill="#8c8cff"/>
<rect x="322.9" y="1385.2" width="2.6" height="2" fill="#8c8cff"/>
<rect x="327.3" y="1387.4" width="2.6" height="2" fill="#8c8cff"/>
<rect x="330.8" y="1388.1" width="2.6" height="2" fill="#8c8cff"/>
<rect x="334.3" y="1388.7" width="2.6" height="2" fill="#8c8cff"/>
<rect x="337.8" y="1389.4" width="2.6" height="2" fill="#8c8cff"/>
<rect x="341.3" y="1390.0" width="2.6" height="2" fill="#8c8cff"/>
<rect x="344.8" y="1390.7" width="2.6" height="2" fill="#8c8cff"/>
<rect x="348.4" y="1390.9" width="2.6" height="2" fill="#8c8cff"/>
<rect x="352.1" y="1391.1" width="2.6" height="2" fill="#8c8cff"/>
<rect x="355.8" y="1391.2" width="2.6" height="2" fill="#8c8cff"/>
<rect x="359.4" y="1391.4" width="2.6" height="2" fill="#8c8cff"/>
<rect x="363.1" y="1391.6" width="2.6" height="2" fill="#8c8cff"/>
<rect x="366.7" y="1391.8" width="2.6" height="2" fill="#8c8cff"/>
<rect x="370.5" y="1391.8" width="2.6" height="2" fill="#8c8cff"/>
<rect x="374.2" y="1391.8" width="2.6" height="2" fill="#8c8cff"/>
<rect x="378.0" y="1391.8" width="2.6" height="2" fill="#8c8cff"/>
<rect x="381.7" y="1391.8" width="2.6" height="2" fill="#8c8cff"/>
<rect x="385.5" y="1391.8" width="2.6" height="2" fill="#8c8cff"/>
<rect x="389.2" y="1391.8" width="2.6" height="2" fill="#8c8cff"/>
<rect x="393.0" y="1391.8" width="2.6" height="2" fill="#8c8cff"/>
<rect x="396.8" y="1391.8" width="2.6" height="2" fill="#8c8cff"/>
<rect x="400.5" y="1391.8" width="2.6" height="2" fill="#8c8cff"/>
<rect x="404.3" y="1391.8" width="2.6" height="2" fill="#8c8cff"/>
<rect x="408.0" y="1391.8" width="2.6" height="2" fill="#8c8cff"/>
<rect x="411.8" y="1391.8" width="2.6" height="2" fill="#8c8cff"/>
<rect x="415.5" y="1391.8" width="2.6" height="2" fill="#8c8cff"/>
<rect x="419.3" y="1391.8" width="2.6" height="2" fill="#8c8cff"/>
<rect x="423.1" y="1391.8" width="2.6" height="2" fill="#8c8cff"/>
<rect x="426.8" y="1391.8" width="2.6" height="2" fill="#8c8cff"/>
<rect x="430.6" y="1391.8" width="2.6" height="2" fill="#8c8cff"/>
<rect x="434.3" y="1391.8" width="2.6" height="2" fill="#8c8cff"/>
<rect x="438.1" y="1391.8" width="2.6" height="2" fill="#8c8cff"/>
<rect x="441.8" y="1391.8" width="2.6" height="2" fill="#8c8cff"/>
<rect x="445.6" y="1391.8" width="2.6" height="2" fill="#8c8cff"/>
<rect x="449.4" y="1391.8" width="2.6" height="2" fill="#8c8cff"/>
<rect x="453.1" y="1391.8" width="2.6" height="2" fill="#8c8cff"/>
<rect x="456.9" y="1391.8" width="2.6" height="2" fill="#8c8cff"/>
<rect x="460.6" y="1391.8" width="2.6" height="2" fill="#8c8cff"/>
<rect x="464.4" y="1391.8" width="2.6" height="2" fill="#8c8cff"/>
<rect x="468.1" y="1391.8" width="2.6" height="2" fill="#8c8cff"/>
<rect x="471.9" y="1391.8" width="2.6" height="2" fill="#8c8cff"/>
<rect x="475.7" y="1391.8" width="2.6" height="2" fill="#8c8cff"/>
<rect x="479.4" y="1391.8" width="2.6" height="2" fill="#8c8cff"/>
<rect x="483.2" y="1391.8" width="2.6" height="2" fill="#8c8cff"/>
<rect x="486.9" y="1391.8" width="2.6" height="2" fill="#8c8cff"/>
<rect x="490.7" y="1391.8" width="2.6" height="2" fill="#8c8cff"/>
<rect x="494.4" y="1391.8" width="2.6" height="2" fill="#8c8cff"/>
<rect x="498.2" y="1391.8" width="2.6" height="2" fill="#8c8cff"/>
<rect x="502.0" y="1391.8" width="2.6" height="2" fill="#8c8cff"/>
<rect x="505.9" y="1391.8" width="2.6" height="2" fill="#8c8cff"/>
<rect x="509.7" y="1391.8" width="2.6" height="2" fill="#8c8cff"/>
<rect x="513.5" y="1391.8" width="2.6" height="2" fill="#8c8cff"/>
<rect x="517.4" y="1391.8" width="2.6" height="2" fill="#8c8cff"/>
<rect x="521.2" y="1391.8" width="2.6" height="2" fill="#8c8cff"/>
<rect x="525.1" y="1391.8" width="2.6" height="2" fill="#8c8cff"/>
<rect x="528.9" y="1391.8" width="2.6" height="2" fill="#8c8cff"/>
<rect x="532.7" y="1391.8" width="2.6" height="2" fill="#8c8cff"/>
<rect x="536.6" y="1391.8" width="2.6" height="2" fill="#8c8cff"/>
<rect x="540.4" y="1391.8" width="2.6" height="2" fill="#8c8cff"/>
<rect x="544.2" y="1391.8" width="2.6" height="2" fill="#8c8cff"/>
<rect x="548.1" y="1391.8" width="2.6" height="2" fill="#8c8cff"/>
<rect x="551.9" y="1391.8" width="2.6" height="2" fill="#8c8cff"/>
<rect x="555.7" y="1391.8" width="2.6" height="2" fill="#8c8cff"/>
<rect x="559.6" y="1391.8" width="2.6" height="2" fill="#8c8cff"/>
<rect x="563.4" y="1391.8" width="2.6" height="2" fill="#8c8cff"/>
<rect x="567.2" y="1391.8" width="2.6" height="2" fill="#8c8cff"/>
<rect x="571.1" y="1391.8" width="2.6" height="2" fill="#8c8cff"/>
<rect x="574.9" y="1391.8" width="2.6" height="2" fill="#8c8cff"/>
<rect x="578.8" y="1391.8" width="2.6" height="2" fill="#8c8cff"/>
<rect x="582.6" y="1391.8" width="2.6" height="2" fill="#8c8cff"/>
<rect x="586.4" y="1391.8" width="2.6" height="2" fill="#8c8cff"/>
<rect x="590.3" y="1391.8" width="2.6" height="2" fill="#8c8cff"/>
<rect x="594.1" y="1391.8" width="2.6" height="2" fill="#8c8cff"/>
<rect x="597.9" y="1391.8" width="2.6" height="2" fill="#8c8cff"/>
<rect x="601.8" y="1391.8" width="2.6" height="2" fill="#8c8cff"/>
<rect x="605.6" y="1391.8" width="2.6" height="2" fill="#8c8cff"/>
<rect x="609.4" y="1391.8" width="2.6" height="2" fill="#8c8cff"/>
<rect x="613.3" y="1391.8" width="2.6" height="2" fill="#8c8cff"/>
<rect x="617.1" y="1391.8" width="2.6" height="2" fill="#8c8cff"/>
<rect x="620.9" y="1391.8" width="2.6" height="2" fill="#8c8cff"/>
<rect x="624.8" y="1391.8" width="2.6" height="2" fill="#8c8cff"/>
<rect x="628.6" y="1391.8" width="2.6" height="2" fill="#8c8cff"/>
<rect x="632.5" y="1391.8" width="2.6" height="2" fill="#8c8cff"/>
<rect x="636.3" y="1391.8" width="2.6" height="2" fill="#8c8cff"/>
<rect x="640.1" y="1391.8" width="2.6" height="2" fill="#8c8cff"/>
<rect x="644.0" y="1391.8" width="2.6" height="2" fill="#8c8cff"/>
<rect x="647.8" y="1391.8" width="2.6" height="2" fill="#8c8cff"/>
<polyline points="137.5,1360.5 138.0,1360.0 138.5,1359.4 139.0,1358.8 139.5,1358.2 140.0,1357.6 140.5,1356.9 141.0,1356.3 141.5,1355.6 142.0,1354.9 142.5,1354.2 143.0,1353.5 143.5,1352.7 144.0,1351.9 144.5,1351.2 145.0,1350.4 145.5,1349.5 146.0,1348.7 146.5,1347.8 147.0,1346.9 147.5,1346.0 148.0,1345.0 148.5,1344.0 149.0,1343.0 149.5,1342.0 150.0,1340.9 150.5,1339.9 151.0,1338.7 151.5,1337.6 152.0,1336.4 152.5,1335.1 153.0,1333.9 153.5,1332.6 154.0,1331.2 154.5,1329.8 155.0,1328.4 155.5,1327.0 156.0,1325.4 156.5,1323.9 157.0,1322.3 157.5,1320.6 158.0,1318.9 158.5,1317.1 159.0,1315.3 159.5,1313.4 160.0,1311.5 160.5,1309.5 161.0,1307.4 161.5,1305.2 162.0,1303.0 162.5,1300.8 163.0,1298.4 163.5,1296.0 164.0,1293.5 164.5,1290.9 165.0,1288.2 165.5,1285.5 166.0,1282.6 166.5,1279.7 167.0,1276.6 167.5,1273.5 168.0,1270.3 168.5,1266.9 169.0,1263.5 169.5,1260.0 170.0,1256.3 170.5,1252.6 171.0,1248.7 171.5,1244.7 172.0,1240.6 172.5,1236.4 173.0,1232.1 173.5,1227.7 174.0,1223.2 174.5,1218.5 175.0,1213.8 175.5,1209.0 176.0,1204.0 176.5,1199.0 177.0,1193.9 177.5,1188.7 178.0,1183.5 178.5,1178.2 179.0,1172.8 179.5,1167.4 180.0,1162.0 180.5,1156.6 181.0,1151.3 181.5,1145.9 182.0,1140.6 182.5,1135.4 183.0,1130.3 183.5,1125.4 184.0,1120.5 184.5,1115.9 185.0,1111.4 185.5,1107.2 186.0,1103.2 186.5,1099.5 187.0,1096.1 187.5,1093.0 188.0,1090.3 188.5,1087.9 189.0,1085.9 189.5,1084.2 190.0,1083.0 190.5,1082.2 191.0,1081.9 191.5,1081.9 192.0,1082.3 192.5,1083.0 193.0,1084.1 193.5,1085.5 194.0,1087.3 194.5,1089.3 195.0,1091.7 195.5,1094.4 196.0,1097.3 196.5,1100.5 197.0,1104.0 197.5,1107.6 198.0,1111.5 198.5,1115.6 199.0,1119.8 199.5,1124.2 200.0,1128.7 200.5,1133.3 201.0,1138.0 201.5,1142.7 202.0,1147.6 202.5,1152.4 203.0,1157.3 203.5,1162.2 204.0,1167.2 204.5,1172.0 205.0,1176.9 205.5,1181.8 206.0,1186.5 206.5,1191.3 207.0,1196.0 207.5,1200.6 208.0,1205.1 208.5,1209.6 209.0,1214.0 209.5,1218.3 210.0,1222.5 210.5,1226.6 211.0,1230.7 211.5,1234.6 212.0,1238.5 212.5,1242.3 213.0,1245.9 213.5,1249.5 214.0,1253.0 214.5,1256.4 215.0,1259.7 215.5,1262.9 216.0,1266.1 216.5,1269.1 217.0,1272.1 217.5,1275.0 218.0,1277.8 218.5,1280.5 219.0,1283.1 219.5,1285.7 220.0,1288.2 220.5,1290.6 221.0,1293.0 221.5,1295.3 222.0,1297.5 222.5,1299.7 223.0,1301.8 223.5,1303.8 224.0,1305.8 224.5,1307.7 225.0,1309.6 225.5,1311.4 226.0,1313.2 226.5,1314.9 227.0,1316.6 227.5,1318.2 228.0,1319.8 228.5,1321.3 229.0,1322.8 229.5,1324.3 230.0,1325.7 230.5,1327.1 231.0,1328.4 231.5,1329.7 232.0,1331.0 232.5,1332.2 233.0,1333.4 233.5,1334.6 234.0,1335.7 234.5,1336.8 235.0,1337.9 235.5,1338.9 236.0,1340.0 236.5,1341.0 237.0,1341.9 237.5,1342.9 238.0,1343.8 238.5,1344.7 239.0,1345.6 239.5,1346.5 240.0,1347.3 240.5,1348.1 241.0,1348.9 241.5,1349.7 242.0,1350.5 242.5,1351.2 243.0,1352.0 243.5,1352.7 244.0,1353.4 244.5,1354.0 245.0,1354.7 245.5,1355.4 246.0,1356.0 246.5,1356.6 247.0,1357.2 247.5,1357.8 248.0,1358.4 248.5,1359.0 249.0,1359.5 249.5,1360.1 250.0,1360.6 250.5,1361.2 251.0,1361.7 251.5,1362.2 252.0,1362.7 252.5,1363.2 253.0,1363.6 253.5,1364.1 254.0,1364.6 254.5,1365.0 255.0,1365.4 255.5,1365.9 256.0,1366.3 256.5,1366.7 257.0,1367.1 257.5,1367.5 258.0,1367.9 258.5,1368.3 259.0,1368.7 259.5,1369.0 260.0,1369.4 260.5,1369.8 261.0,1370.1 261.5,1370.4 262.0,1370.8 262.5,1371.1 263.0,1371.4 263.5,1371.8 264.0,1372.1 264.5,1372.4 265.0,1372.7 265.5,1373.0 266.0,1373.3 266.5,1373.5 267.0,1373.8 267.5,1374.1 268.0,1374.4 268.5,1374.6 269.0,1374.9 269.5,1375.1 270.0,1375.4 270.5,1375.6 271.0,1375.8 271.5,1376.1 272.0,1376.3 272.5,1376.5 273.0,1376.7 273.5,1377.0 274.0,1377.2 274.5,1377.4 275.0,1377.6 275.5,1377.8 276.0,1378.0 276.5,1378.1 277.0,1378.3 277.5,1378.5 278.0,1378.7 278.5,1378.8 279.0,1379.0 279.5,1379.2 280.0,1379.3 280.5,1379.5 281.0,1379.6 281.5,1379.8 282.0,1379.9 282.5,1380.1 283.0,1380.2 283.5,1380.4 284.0,1380.5 284.5,1380.6 285.0,1380.8 285.5,1380.9 286.0,1381.0 286.5,1381.1 287.0,1381.3 287.5,1381.4 288.0,1381.5 288.5,1381.6 289.0,1381.7 289.5,1381.8 290.0,1381.9 290.5,1382.0 291.0,1382.1 291.5,1382.2 292.0,1382.3 292.5,1382.4 293.0,1382.5 293.5,1382.6 294.0,1382.7 294.5,1382.8 295.0,1382.9 295.5,1383.0 296.0,1383.0 296.5,1383.1 297.0,1383.2 297.5,1383.3 298.0,1383.4 298.5,1383.4 299.0,1383.5 299.5,1383.6 300.0,1383.7 300.5,1383.8 301.0,1383.8 301.5,1383.9 302.0,1384.0 302.5,1384.1 303.0,1384.1 303.5,1384.2 304.0,1384.3 304.5,1384.3 305.0,1384.4 305.5,1384.5 306.0,1384.5 306.5,1384.6 307.0,1384.7 307.5,1384.7 308.0,1384.8 308.5,1384.9 309.0,1384.9 309.5,1385.0 310.0,1385.1 310.5,1385.1 311.0,1385.2 311.5,1385.3 312.0,1385.3 312.5,1385.4 313.0,1385.4 313.5,1385.5 314.0,1385.6 314.5,1385.6 315.0,1385.7 315.5,1385.7 316.0,1385.8 316.5,1385.9 317.0,1385.9 317.5,1386.0 318.0,1386.0 318.5,1386.1 319.0,1386.1 319.5,1386.2 320.0,1386.3 320.5,1386.3 321.0,1386.4 321.5,1386.4 322.0,1386.5 322.5,1386.5 323.0,1386.6 323.5,1386.6 324.0,1386.7 324.5,1386.7 325.0,1386.8 325.5,1386.8 326.0,1386.9 326.5,1386.9 327.0,1387.0 327.5,1387.0 328.0,1387.1 328.5,1387.1 329.0,1387.2 329.5,1387.2 330.0,1387.3 330.5,1387.3 331.0,1387.3 331.5,1387.4 332.0,1387.4 332.5,1387.5 333.0,1387.5 333.5,1387.6 334.0,1387.6 334.5,1387.6 335.0,1387.7 335.5,1387.7 336.0,1387.8 336.5,1387.8 337.0,1387.9 337.5,1387.9 338.0,1387.9 338.5,1388.0 339.0,1388.0 339.5,1388.0 340.0,1388.1 340.5,1388.1 341.0,1388.2 341.5,1388.2 342.0,1388.2 342.5,1388.3 343.0,1388.3 343.5,1388.3 344.0,1388.4 344.5,1388.4 345.0,1388.4 345.5,1388.5 346.0,1388.5 346.5,1388.5 347.0,1388.6 347.5,1388.6 348.0,1388.6 348.5,1388.7 349.0,1388.7 349.5,1388.7 350.0,1388.8 350.5,1388.8 351.0,1388.8 351.5,1388.9 352.0,1388.9 352.5,1388.9 353.0,1389.0 353.5,1389.0 354.0,1389.0 354.5,1389.0 355.0,1389.1 355.5,1389.1 356.0,1389.1 356.5,1389.2 357.0,1389.2 357.5,1389.2 358.0,1389.2 358.5,1389.3 359.0,1389.3 359.5,1389.3 360.0,1389.3 360.5,1389.4 361.0,1389.4 361.5,1389.4 362.0,1389.4 362.5,1389.5 363.0,1389.5 363.5,1389.5 364.0,1389.5 364.5,1389.6 365.0,1389.6 365.5,1389.6 366.0,1389.6 366.5,1389.7 367.0,1389.7 367.5,1389.7 368.0,1389.7 368.5,1389.8 369.0,1389.8 369.5,1389.8 370.0,1389.8 370.5,1389.8 371.0,1389.9 371.5,1389.9 372.0,1389.9 372.5,1389.9 373.0,1390.0 373.5,1390.0 374.0,1390.0 374.5,1390.0 375.0,1390.0 375.5,1390.1 376.0,1390.1 376.5,1390.1 377.0,1390.1 377.5,1390.1 378.0,1390.2 378.5,1390.2 379.0,1390.2 379.5,1390.2 380.0,1390.2 380.5,1390.2 381.0,1390.3 381.5,1390.3 382.0,1390.3 382.5,1390.3 383.0,1390.3 383.5,1390.3 384.0,1390.3 384.5,1390.3 385.0,1390.4 385.5,1390.4 386.0,1390.4 386.5,1390.4 387.0,1390.4 387.5,1390.4 388.0,1390.4 388.5,1390.4 389.0,1390.4 389.5,1390.4 390.0,1390.5 390.5,1390.5 391.0,1390.5 391.5,1390.5 392.0,1390.5 392.5,1390.5 393.0,1390.5 393.5,1390.5 394.0,1390.5 394.5,1390.5 395.0,1390.6 395.5,1390.6 396.0,1390.6 396.5,1390.6 397.0,1390.6 397.5,1390.6 398.0,1390.6 398.5,1390.6 399.0,1390.6 399.5,1390.6 400.0,1390.6 400.5,1390.6 401.0,1390.7 401.5,1390.7 402.0,1390.7 402.5,1390.7 403.0,1390.7 403.5,1390.7 404.0,1390.7 404.5,1390.7 405.0,1390.7 405.5,1390.7 406.0,1390.7 406.5,1390.7 407.0,1390.7 407.5,1390.7 408.0,1390.7 408.5,1390.8 409.0,1390.8 409.5,1390.8 410.0,1390.8 410.5,1390.8 411.0,1390.8 411.5,1390.8 412.0,1390.8 412.5,1390.8 413.0,1390.8 413.5,1390.8 414.0,1390.8 414.5,1390.8 415.0,1390.8 415.5,1390.8 416.0,1390.8 416.5,1390.8 417.0,1390.8 417.5,1390.9 418.0,1390.9 418.5,1390.9 419.0,1390.9 419.5,1390.9 420.0,1390.9 420.5,1390.9 421.0,1390.9 421.5,1390.9 422.0,1390.9 422.5,1390.9 423.0,1390.9 423.5,1390.9 424.0,1390.9 424.5,1390.9 425.0,1390.9 425.5,1390.9 426.0,1390.9 426.5,1390.9 427.0,1390.9 427.5,1390.9 428.0,1390.9 428.5,1390.9 429.0,1390.9 429.5,1390.9 430.0,1390.9 430.5,1391.0 431.0,1391.0 431.5,1391.0 432.0,1391.0 432.5,1391.0 433.0,1391.0 433.5,1391.0 434.0,1391.0 434.5,1391.0 435.0,1391.0 435.5,1391.0 436.0,1391.0 436.5,1391.0 437.0,1391.0 437.5,1391.0 438.0,1391.0 438.5,1391.0 439.0,1391.0 439.5,1391.0 440.0,1391.0 440.5,1391.0 441.0,1391.0 441.5,1391.0 442.0,1391.0 442.5,1391.0 443.0,1391.0 443.5,1391.0 444.0,1391.0 444.5,1391.0 445.0,1391.0 445.5,1391.0 446.0,1391.0 446.5,1391.0 447.0,1391.0 447.5,1391.0 448.0,1391.0 448.5,1391.0 449.0,1391.0 449.5,1391.0 450.0,1391.0 450.5,1391.0 451.0,1391.0 451.5,1391.0 452.0,1391.0 452.5,1391.0 453.0,1391.0 453.5,1391.0 454.0,1391.0 454.5,1391.0 455.0,1391.0 455.5,1391.0 456.0,1391.0 456.5,1391.0 457.0,1391.0 457.5,1391.0 458.0,1391.0 458.5,1391.0 459.0,1391.0 459.5,1391.0 460.0,1391.0 460.5,1391.1 461.0,1391.1 461.5,1391.1 462.0,1391.1 462.5,1391.1 463.0,1391.1 463.5,1391.1 464.0,1391.1 464.5,1391.1 465.0,1391.1 465.5,1391.1 466.0,1391.1 466.5,1391.1 467.0,1391.1 467.5,1391.1 468.0,1391.1 468.5,1391.2 469.0,1391.2 469.5,1391.2 470.0,1391.2 470.5,1391.2 471.0,1391.2 471.5,1391.2 472.0,1391.2 472.5,1391.2 473.0,1391.2 473.5,1391.2 474.0,1391.2 474.5,1391.2 475.0,1391.2 475.5,1391.2 476.0,1391.2 476.5,1391.2 477.0,1391.3 477.5,1391.3 478.0,1391.3 478.5,1391.3 479.0,1391.3 479.5,1391.3 480.0,1391.3 480.5,1391.3 481.0,1391.3 481.5,1391.3 482.0,1391.3 482.5,1391.3 483.0,1391.3 483.5,1391.3 484.0,1391.3 484.5,1391.3 485.0,1391.3 485.5,1391.3 486.0,1391.3 486.5,1391.3 487.0,1391.4 487.5,1391.4 488.0,1391.4 488.5,1391.4 489.0,1391.4 489.5,1391.4 490.0,1391.4 490.5,1391.4 491.0,1391.4 491.5,1391.4 492.0,1391.4 492.5,1391.4 493.0,1391.4 493.5,1391.4 494.0,1391.4 494.5,1391.4 495.0,1391.4 495.5,1391.4 496.0,1391.4 496.5,1391.4 497.0,1391.4 497.5,1391.5 498.0,1391.5 498.5,1391.5 499.0,1391.5 499.5,1391.5 500.0,1391.5 500.5,1391.5 501.0,1391.5 501.5,1391.5 502.0,1391.5 502.5,1391.5 503.0,1391.5 503.5,1391.5 504.0,1391.5 504.5,1391.5 505.0,1391.5 505.5,1391.5 506.0,1391.5 506.5,1391.5 507.0,1391.5 507.5,1391.5 508.0,1391.5 508.5,1391.5 509.0,1391.6 509.5,1391.6 510.0,1391.6 510.5,1391.6 511.0,1391.6 511.5,1391.6 512.0,1391.6 512.5,1391.6 513.0,1391.6 513.5,1391.6 514.0,1391.6 514.5,1391.6 515.0,1391.6 515.5,1391.6 516.0,1391.6 516.5,1391.6 517.0,1391.6 517.5,1391.6 518.0,1391.6 518.5,1391.6 519.0,1391.6 519.5,1391.6 520.0,1391.6 520.5,1391.6 521.0,1391.6 521.5,1391.6 522.0,1391.6 522.5,1391.7 523.0,1391.7 523.5,1391.7 524.0,1391.7 524.5,1391.7 525.0,1391.7 525.5,1391.7 526.0,1391.7 526.5,1391.7 527.0,1391.7 527.5,1391.7 528.0,1391.7 528.5,1391.7 529.0,1391.7 529.5,1391.7 530.0,1391.7 530.5,1391.7 531.0,1391.7 531.5,1391.7 532.0,1391.7 532.5,1391.7 533.0,1391.7 533.5,1391.7 534.0,1391.7 534.5,1391.7 535.0,1391.7 535.5,1391.7 536.0,1391.7 536.5,1391.7 537.0,1391.7 537.5,1391.8 538.0,1391.8 538.5,1391.8 539.0,1391.8 539.5,1391.8 540.0,1391.8 540.5,1391.8 541.0,1391.8 541.5,1391.8 542.0,1391.8 542.5,1391.8 543.0,1391.8 543.5,1391.8 544.0,1391.8 544.5,1391.8 545.0,1391.8 545.5,1391.8 546.0,1391.8 546.5,1391.8 547.0,1391.8 547.5,1391.8 548.0,1391.8 548.5,1391.8 549.0,1391.8 549.5,1391.8 550.0,1391.8 550.5,1391.8 551.0,1391.8 551.5,1391.8 552.0,1391.8 552.5,1391.8 553.0,1391.8 553.5,1391.8 554.0,1391.8 554.5,1391.8 555.0,1391.9 555.5,1391.9 556.0,1391.9 556.5,1391.9 557.0,1391.9 557.5,1391.9 558.0,1391.9 558.5,1391.9 559.0,1391.9 559.5,1391.9 560.0,1391.9 560.5,1391.9 561.0,1391.9 561.5,1391.9 562.0,1391.9 562.5,1391.9 563.0,1391.9 563.5,1391.9 564.0,1391.9 564.5,1391.9 565.0,1391.9 565.5,1391.9 566.0,1391.9 566.5,1391.9 567.0,1391.9 567.5,1391.9 568.0,1391.9 568.5,1391.9 569.0,1391.9 569.5,1391.9 570.0,1391.9 570.5,1391.9 571.0,1391.9 571.5,1391.9 572.0,1391.9 572.5,1391.9 573.0,1391.9 573.5,1391.9 574.0,1391.9 574.5,1391.9 575.0,1392.0 575.5,1392.0 576.0,1392.0 576.5,1392.0 577.0,1392.0 577.5,1392.0 578.0,1392.0 578.5,1392.0 579.0,1392.0 579.5,1392.0 580.0,1392.0 580.5,1392.0 581.0,1392.0 581.5,1392.0 582.0,1392.0 582.5,1392.0 583.0,1392.0 583.5,1392.0 584.0,1392.0 584.5,1392.0 585.0,1392.0 585.5,1392.0 586.0,1392.0 586.5,1392.0 587.0,1392.0 587.5,1392.0 588.0,1392.0 588.5,1392.0 589.0,1392.0 589.5,1392.0 590.0,1392.0 590.5,1392.0 591.0,1392.0 591.5,1392.0 592.0,1392.0 592.5,1392.0 593.0,1392.0 593.5,1392.0 594.0,1392.0 594.5,1392.0 595.0,1392.0 595.5,1392.0 596.0,1392.0 596.5,1392.0 597.0,1392.0 597.5,1392.0 598.0,1392.0 598.5,1392.0 599.0,1392.1 599.5,1392.1 600.0,1392.1 600.5,1392.1 601.0,1392.1 601.5,1392.1 602.0,1392.1 602.5,1392.1 603.0,1392.1 603.5,1392.1 604.0,1392.1 604.5,1392.1 605.0,1392.1 605.5,1392.1 606.0,1392.1 606.5,1392.1 607.0,1392.1 607.5,1392.1 608.0,1392.1 608.5,1392.1 609.0,1392.1 609.5,1392.1 610.0,1392.1 610.5,1392.1 611.0,1392.1 611.5,1392.1 612.0,1392.1 612.5,1392.1 613.0,1392.1 613.5,1392.1 614.0,1392.1 614.5,1392.1 615.0,1392.1 615.5,1392.1 616.0,1392.1 616.5,1392.1 617.0,1392.1 617.5,1392.1 618.0,1392.1 618.5,1392.1 619.0,1392.1 619.5,1392.1 620.0,1392.1 620.5,1392.1 621.0,1392.1 621.5,1392.1 622.0,1392.1 622.5,1392.1 623.0,1392.1 623.5,1392.1 624.0,1392.1 624.5,1392.1 625.0,1392.1 625.5,1392.1 626.0,1392.1 626.5,1392.1 627.0,1392.1 627.5,1392.1 628.0,1392.2 628.5,1392.2 629.0,1392.2 629.5,1392.2 630.0,1392.2 630.5,1392.2 631.0,1392.2 631.5,1392.2 632.0,1392.2 632.5,1392.2 633.0,1392.2 633.5,1392.2 634.0,1392.2 634.5,1392.2 635.0,1392.2 635.5,1392.2 636.0,1392.2 636.5,1392.2 637.0,1392.2 637.5,1392.2 638.0,1392.2 638.5,1392.2 639.0,1392.2 639.5,1392.2 640.0,1392.2 640.5,1392.2 641.0,1392.2 641.5,1392.2 642.0,1392.2 642.5,1392.2 643.0,1392.2 643.5,1392.2 644.0,1392.2 644.5,1392.2 645.0,1392.2" fill="none" stroke="#ff0000" stroke-width="2" stroke-linejoin="round"/>
<rect x="109.8" y="1053" width="574.2" height="362.5999999999999" fill="none" stroke="#000" stroke-width="2"/>
<line x1="100.1" y1="1053.0" x2="109.8" y2="1053.0" stroke="#000" stroke-width="2"/>
<line x1="100.1" y1="1138.2" x2="109.8" y2="1138.2" stroke="#000" stroke-width="2"/>
<line x1="100.1" y1="1223.5" x2="109.8" y2="1223.5" stroke="#000" stroke-width="2"/>
<line x1="100.1" y1="1308.8" x2="109.8" y2="1308.8" stroke="#000" stroke-width="2"/>
<line x1="100.1" y1="1394.0" x2="109.8" y2="1394.0" stroke="#000" stroke-width="2"/>
<line x1="104.5" y1="1095.6" x2="109.8" y2="1095.6" stroke="#000" stroke-width="2"/>
<line x1="104.5" y1="1180.9" x2="109.8" y2="1180.9" stroke="#000" stroke-width="2"/>
<line x1="104.5" y1="1266.1" x2="109.8" y2="1266.1" stroke="#000" stroke-width="2"/>
<line x1="104.5" y1="1351.4" x2="109.8" y2="1351.4" stroke="#000" stroke-width="2"/>
<line x1="109.8" y1="1415.6" x2="109.8" y2="1420.7" stroke="#000" stroke-width="2"/>
<line x1="183.6" y1="1415.6" x2="183.6" y2="1420.7" stroke="#000" stroke-width="2"/>
<line x1="261.5" y1="1415.6" x2="261.5" y2="1420.7" stroke="#000" stroke-width="2"/>
<line x1="338.2" y1="1415.6" x2="338.2" y2="1420.7" stroke="#000" stroke-width="2"/>
<line x1="415.3" y1="1415.6" x2="415.3" y2="1420.7" stroke="#000" stroke-width="2"/>
<line x1="492.3" y1="1415.6" x2="492.3" y2="1420.7" stroke="#000" stroke-width="2"/>
<line x1="568.5" y1="1415.6" x2="568.5" y2="1420.7" stroke="#000" stroke-width="2"/>
<line x1="646.3" y1="1415.6" x2="646.3" y2="1420.7" stroke="#000" stroke-width="2"/>
<line x1="146.7" y1="1415.6" x2="146.7" y2="1418.3" stroke="#000" stroke-width="2"/>
<line x1="222.6" y1="1415.6" x2="222.6" y2="1418.3" stroke="#000" stroke-width="2"/>
<line x1="299.9" y1="1415.6" x2="299.9" y2="1418.3" stroke="#000" stroke-width="2"/>
<line x1="376.8" y1="1415.6" x2="376.8" y2="1418.3" stroke="#000" stroke-width="2"/>
<line x1="453.8" y1="1415.6" x2="453.8" y2="1418.3" stroke="#000" stroke-width="2"/>
<line x1="530.4" y1="1415.6" x2="530.4" y2="1418.3" stroke="#000" stroke-width="2"/>
<line x1="607.4" y1="1415.6" x2="607.4" y2="1418.3" stroke="#000" stroke-width="2"/>
<text transform="scale(1.22,1)" y="1058.0" font-family='"Liberation Serif", serif' font-weight="bold" fill="#555"><tspan x="19.95" y="1058.00" font-size="15.0">1</tspan><tspan x="27.51" y="1058.00" font-size="15.0">.</tspan><tspan x="34.30" y="1058.00" font-size="15.0">6</tspan><tspan x="43.93" y="1059.68" font-size="19.5">×</tspan><tspan x="57.24" y="1058.00" font-size="15.0">1</tspan><tspan x="64.65" y="1058.00" font-size="15.0">0</tspan></text>
<text x="88.0" y="1050.7" font-family='"Liberation Serif", serif' font-size="9.5" font-weight="bold" fill="#999">8</text>
<text transform="scale(1.22,1)" y="1143.2" font-family='"Liberation Serif", serif' font-weight="bold" fill="#555"><tspan x="19.95" y="1143.25" font-size="15.0">1</tspan><tspan x="27.51" y="1143.25" font-size="15.0">.</tspan><tspan x="34.15" y="1143.25" font-size="15.0">2</tspan><tspan x="43.93" y="1144.93" font-size="19.5">×</tspan><tspan x="57.24" y="1143.25" font-size="15.0">1</tspan><tspan x="64.65" y="1143.25" font-size="15.0">0</tspan></text>
<text x="88.0" y="1136.0" font-family='"Liberation Serif", serif' font-size="9.5" font-weight="bold" fill="#999">8</text>
<text transform="scale(1.22,1)" y="1228.5" font-family='"Liberation Serif", serif' font-weight="bold" fill="#555"><tspan x="20.29" y="1228.50" font-size="15.0">8</tspan><tspan x="27.51" y="1228.50" font-size="15.0">.</tspan><tspan x="34.15" y="1228.50" font-size="15.0">0</tspan><tspan x="43.93" y="1230.18" font-size="19.5">×</tspan><tspan x="57.24" y="1228.50" font-size="15.0">1</tspan><tspan x="64.65" y="1228.50" font-size="15.0">0</tspan></text>
<text x="88.0" y="1221.2" font-family='"Liberation Serif", serif' font-size="9.5" font-weight="bold" fill="#999">7</text>
<text transform="scale(1.22,1)" y="1313.8" font-family='"Liberation Serif", serif' font-weight="bold" fill="#555"><tspan x="20.59" y="1313.75" font-size="15.0">4</tspan><tspan x="27.51" y="1313.75" font-size="15.0">.</tspan><tspan x="34.15" y="1313.75" font-size="15.0">0</tspan><tspan x="43.93" y="1315.43" font-size="19.5">×</tspan><tspan x="57.24" y="1313.75" font-size="15.0">1</tspan><tspan x="64.65" y="1313.75" font-size="15.0">0</tspan></text>
<text x="88.0" y="1306.5" font-family='"Liberation Serif", serif' font-size="9.5" font-weight="bold" fill="#999">7</text>
<text transform="scale(1.22,1)" y="1399.5" font-family='"Liberation Serif", serif' font-weight="bold" fill="#555"><tspan x="53.50" y="1399.50" font-size="15.0">0</tspan><tspan x="62.76" y="1399.50" font-size="15.0">.</tspan><tspan x="69.40" y="1399.50" font-size="15.0">0</tspan></text>
<text x="108.3" y="1437.0" font-family='"Liberation Serif", serif' font-size="14" font-weight="bold" text-anchor="middle" fill="#555" textLength="9.6" lengthAdjust="spacingAndGlyphs" >0</text>
<text x="185.1" y="1437.0" font-family='"Liberation Serif", serif' font-size="14" font-weight="bold" text-anchor="middle" fill="#555" textLength="28.8" lengthAdjust="spacingAndGlyphs" >100</text>
<text x="261.5" y="1437.0" font-family='"Liberation Serif", serif' font-size="14" font-weight="bold" text-anchor="middle" fill="#555" textLength="28.8" lengthAdjust="spacingAndGlyphs" >200</text>
<text x="338.2" y="1437.0" font-family='"Liberation Serif", serif' font-size="14" font-weight="bold" text-anchor="middle" fill="#555" textLength="28.8" lengthAdjust="spacingAndGlyphs" >300</text>
<text x="415.3" y="1437.0" font-family='"Liberation Serif", serif' font-size="14" font-weight="bold" text-anchor="middle" fill="#555" textLength="28.8" lengthAdjust="spacingAndGlyphs" >400</text>
<text x="492.3" y="1437.0" font-family='"Liberation Serif", serif' font-size="14" font-weight="bold" text-anchor="middle" fill="#555" textLength="28.8" lengthAdjust="spacingAndGlyphs" >500</text>
<text x="568.5" y="1437.0" font-family='"Liberation Serif", serif' font-size="14" font-weight="bold" text-anchor="middle" fill="#555" textLength="28.8" lengthAdjust="spacingAndGlyphs" >600</text>
<text x="646.3" y="1437.0" font-family='"Liberation Serif", serif' font-size="14" font-weight="bold" text-anchor="middle" fill="#555" textLength="28.8" lengthAdjust="spacingAndGlyphs" >700</text>
<text x="349.6" y="1454.7" font-family='"Liberation Serif", serif' font-size="17" font-weight="bold" text-anchor="start" fill="#111" textLength="92.0" lengthAdjust="spacingAndGlyphs" >Temp(°C)</text>
<text transform="translate(19.3,1292.7) rotate(-90)" font-family='"Liberation Serif", serif' font-size="19" font-weight="bold" fill="#111" textLength="121" lengthAdjust="spacingAndGlyphs">Resistivity(Ω·m)</text>
<text x="311.0" y="1490.4" font-family='"Liberation Serif", serif' font-size="24" font-weight="normal" text-anchor="start" fill="#333" textLength="59.6" lengthAdjust="spacingAndGlyphs" xml:space="preserve">(1) R3</text>
<rect x="464" y="1056.7" width="198.29999999999995" height="42.700000000000045" fill="#000"/>
<rect x="462" y="1054.7" width="198.29999999999995" height="42.700000000000045" fill="#fff" stroke="#000" stroke-width="1.8"/>
<rect x="482.1" y="1062.3" width="11.0" height="8.8" rx="3.0" fill="#0000ff"/>
<line x1="465.2" y1="1087.3" x2="507.3" y2="1087.3" stroke="#ff0000" stroke-width="2"/>
<text x="514.8" y="1070.6" font-family='"Liberation Serif", serif' font-size="15" font-weight="bold" text-anchor="start" fill="#111" textLength="140.0" lengthAdjust="spacingAndGlyphs" >Resistivity(Ω·m)</text>
<text x="514.8" y="1089.7" font-family='"Liberation Serif", serif' font-size="15" font-weight="bold" text-anchor="start" fill="#111" textLength="90.4" lengthAdjust="spacingAndGlyphs" >Fit a curve</text>
<line x1="335.0" y1="1102.0" x2="678.3" y2="1102.0" stroke="#000" stroke-width="2"/>
<line x1="335.0" y1="1121.0" x2="678.3" y2="1121.0" stroke="#000" stroke-width="2"/>
<line x1="335.0" y1="1152.3" x2="678.3" y2="1152.3" stroke="#000" stroke-width="2"/>
<line x1="335.0" y1="1172.0" x2="678.3" y2="1172.0" stroke="#000" stroke-width="2"/>
<line x1="335.0" y1="1189.5" x2="678.3" y2="1189.5" stroke="#000" stroke-width="2"/>
<line x1="335.0" y1="1207.5" x2="678.3" y2="1207.5" stroke="#000" stroke-width="2"/>
<line x1="335.0" y1="1226.0" x2="678.3" y2="1226.0" stroke="#000" stroke-width="2"/>
<line x1="335.0" y1="1243.0" x2="678.3" y2="1243.0" stroke="#000" stroke-width="2"/>
<line x1="335.0" y1="1260.0" x2="678.3" y2="1260.0" stroke="#000" stroke-width="2"/>
<line x1="335.0" y1="1277.5" x2="678.3" y2="1277.5" stroke="#000" stroke-width="2"/>
<line x1="335.0" y1="1296.0" x2="678.3" y2="1296.0" stroke="#000" stroke-width="2"/>
<line x1="335.0" y1="1313.8" x2="678.3" y2="1313.8" stroke="#000" stroke-width="2"/>
<line x1="336.0" y1="1101.0" x2="336.0" y2="1314.8" stroke="#000" stroke-width="2"/>
<line x1="460.0" y1="1102.0" x2="460.0" y2="1313.8" stroke="#000" stroke-width="2"/>
<line x1="677.3" y1="1101.0" x2="677.3" y2="1314.8" stroke="#000" stroke-width="2"/>
<text x="339.2" y="1114.5" font-family='"Liberation Mono", monospace' font-size="13.5" font-weight="normal" text-anchor="start" fill="#8a8a8a" textLength="40.8" lengthAdjust="spacingAndGlyphs" xml:space="preserve">Model</text>
<text x="339.2" y="1139.7" font-family='"Liberation Mono", monospace' font-size="13.5" font-weight="normal" text-anchor="start" fill="#8a8a8a" textLength="66.1" lengthAdjust="spacingAndGlyphs" xml:space="preserve">Equation</text>
<text x="339.2" y="1165.2" font-family='"Liberation Mono", monospace' font-size="13.5" font-weight="normal" text-anchor="start" fill="#8a8a8a" textLength="32.3" lengthAdjust="spacingAndGlyphs" xml:space="preserve">Plot</text>
<text x="339.2" y="1183.8" font-family='"Liberation Mono", monospace' font-size="13.5" font-weight="normal" text-anchor="start" fill="#8a8a8a" textLength="15.4" lengthAdjust="spacingAndGlyphs" xml:space="preserve">y0</text>
<text x="339.2" y="1201.5" font-family='"Liberation Mono", monospace' font-size="13.5" font-weight="normal" text-anchor="start" fill="#8a8a8a" textLength="15.4" lengthAdjust="spacingAndGlyphs" xml:space="preserve">xc</text>
<text x="339.2" y="1219.8" font-family='"Liberation Mono", monospace' font-size="13.5" font-weight="normal" text-anchor="start" fill="#8a8a8a" textLength="6.9" lengthAdjust="spacingAndGlyphs" xml:space="preserve">A</text>
<text x="339.2" y="1237.5" font-family='"Liberation Mono", monospace' font-size="13.5" font-weight="normal" text-anchor="start" fill="#8a8a8a" textLength="15.4" lengthAdjust="spacingAndGlyphs" xml:space="preserve">wG</text>
<text x="339.2" y="1254.5" font-family='"Liberation Mono", monospace' font-size="13.5" font-weight="normal" text-anchor="start" fill="#8a8a8a" textLength="15.4" lengthAdjust="spacingAndGlyphs" xml:space="preserve">wL</text>
<text x="339.2" y="1271.8" font-family='"Liberation Mono", monospace' font-size="13.5" font-weight="normal" text-anchor="start" fill="#8a8a8a" textLength="108.3" lengthAdjust="spacingAndGlyphs" xml:space="preserve">Reduced Chi-S</text>
<text x="339.2" y="1289.8" font-family='"Liberation Mono", monospace' font-size="13.5" font-weight="normal" text-anchor="start" fill="#8a8a8a" textLength="108.3" lengthAdjust="spacingAndGlyphs" xml:space="preserve">R-Square (COD</text>
<text x="339.2" y="1307.9" font-family='"Liberation Mono", monospace' font-size="13.5" font-weight="normal" text-anchor="start" fill="#8a8a8a" textLength="108.3" lengthAdjust="spacingAndGlyphs" xml:space="preserve">Adj. R-Square</text>
<text x="568.6" y="1113.0" font-family='"Liberation Mono", monospace' font-size="13.5" font-weight="normal" text-anchor="middle" fill="#8a8a8a" textLength="40.8" lengthAdjust="spacingAndGlyphs" xml:space="preserve">Voigt</text>
<text x="568.6" y="1131.0" font-family='"Liberation Mono", monospace' font-size="13.5" font-weight="normal" text-anchor="middle" fill="#8a8a8a" textLength="209.7" lengthAdjust="spacingAndGlyphs" xml:space="preserve">y = nlf_voigt(x,y0,xc,A,w</text>
<text x="568.6" y="1145.5" font-family='"Liberation Mono", monospace' font-size="13.5" font-weight="normal" text-anchor="middle" fill="#8a8a8a" textLength="49.2" lengthAdjust="spacingAndGlyphs" xml:space="preserve">G,wL);</text>
<text x="568.6" y="1163.7" font-family='"Liberation Mono", monospace' font-size="13.5" font-weight="normal" text-anchor="middle" fill="#8a8a8a" textLength="6.9" lengthAdjust="spacingAndGlyphs" xml:space="preserve">D</text>
<text x="568.6" y="1182.2" font-family='"Liberation Mono", monospace' font-size="13.5" font-weight="normal" text-anchor="middle" fill="#8a8a8a" textLength="209.7" lengthAdjust="spacingAndGlyphs" xml:space="preserve">785028.2595 ± 923950.050</text>
<text x="568.6" y="1200.0" font-family='"Liberation Mono", monospace' font-size="13.5" font-weight="normal" text-anchor="middle" fill="#8a8a8a" textLength="167.5" lengthAdjust="spacingAndGlyphs" xml:space="preserve">108.42112 ± 0.73863</text>
<text x="568.6" y="1218.2" font-family='"Liberation Mono", monospace' font-size="13.5" font-weight="normal" text-anchor="middle" fill="#8a8a8a" textLength="192.8" lengthAdjust="spacingAndGlyphs" xml:space="preserve">1.10719E10 ± 5.45402E8</text>
<text x="568.6" y="1236.0" font-family='"Liberation Mono", monospace' font-size="13.5" font-weight="normal" text-anchor="middle" fill="#8a8a8a" textLength="159.0" lengthAdjust="spacingAndGlyphs" xml:space="preserve">16.6383 ± 10.40625</text>
<text x="568.6" y="1253.0" font-family='"Liberation Mono", monospace' font-size="13.5" font-weight="normal" text-anchor="middle" fill="#8a8a8a" textLength="159.0" lengthAdjust="spacingAndGlyphs" xml:space="preserve">44.76595 ± 5.96003</text>
<text x="568.6" y="1270.2" font-family='"Liberation Mono", monospace' font-size="13.5" font-weight="normal" text-anchor="middle" fill="#8a8a8a" textLength="83.0" lengthAdjust="spacingAndGlyphs" xml:space="preserve">3.68801E13</text>
<text x="568.6" y="1288.2" font-family='"Liberation Mono", monospace' font-size="13.5" font-weight="normal" text-anchor="middle" fill="#8a8a8a" textLength="49.2" lengthAdjust="spacingAndGlyphs" xml:space="preserve">0.9723</text>
<text x="568.6" y="1306.4" font-family='"Liberation Mono", monospace' font-size="13.5" font-weight="normal" text-anchor="middle" fill="#8a8a8a" textLength="57.6" lengthAdjust="spacingAndGlyphs" xml:space="preserve">0.97062</text>
</svg>
</body></html>
